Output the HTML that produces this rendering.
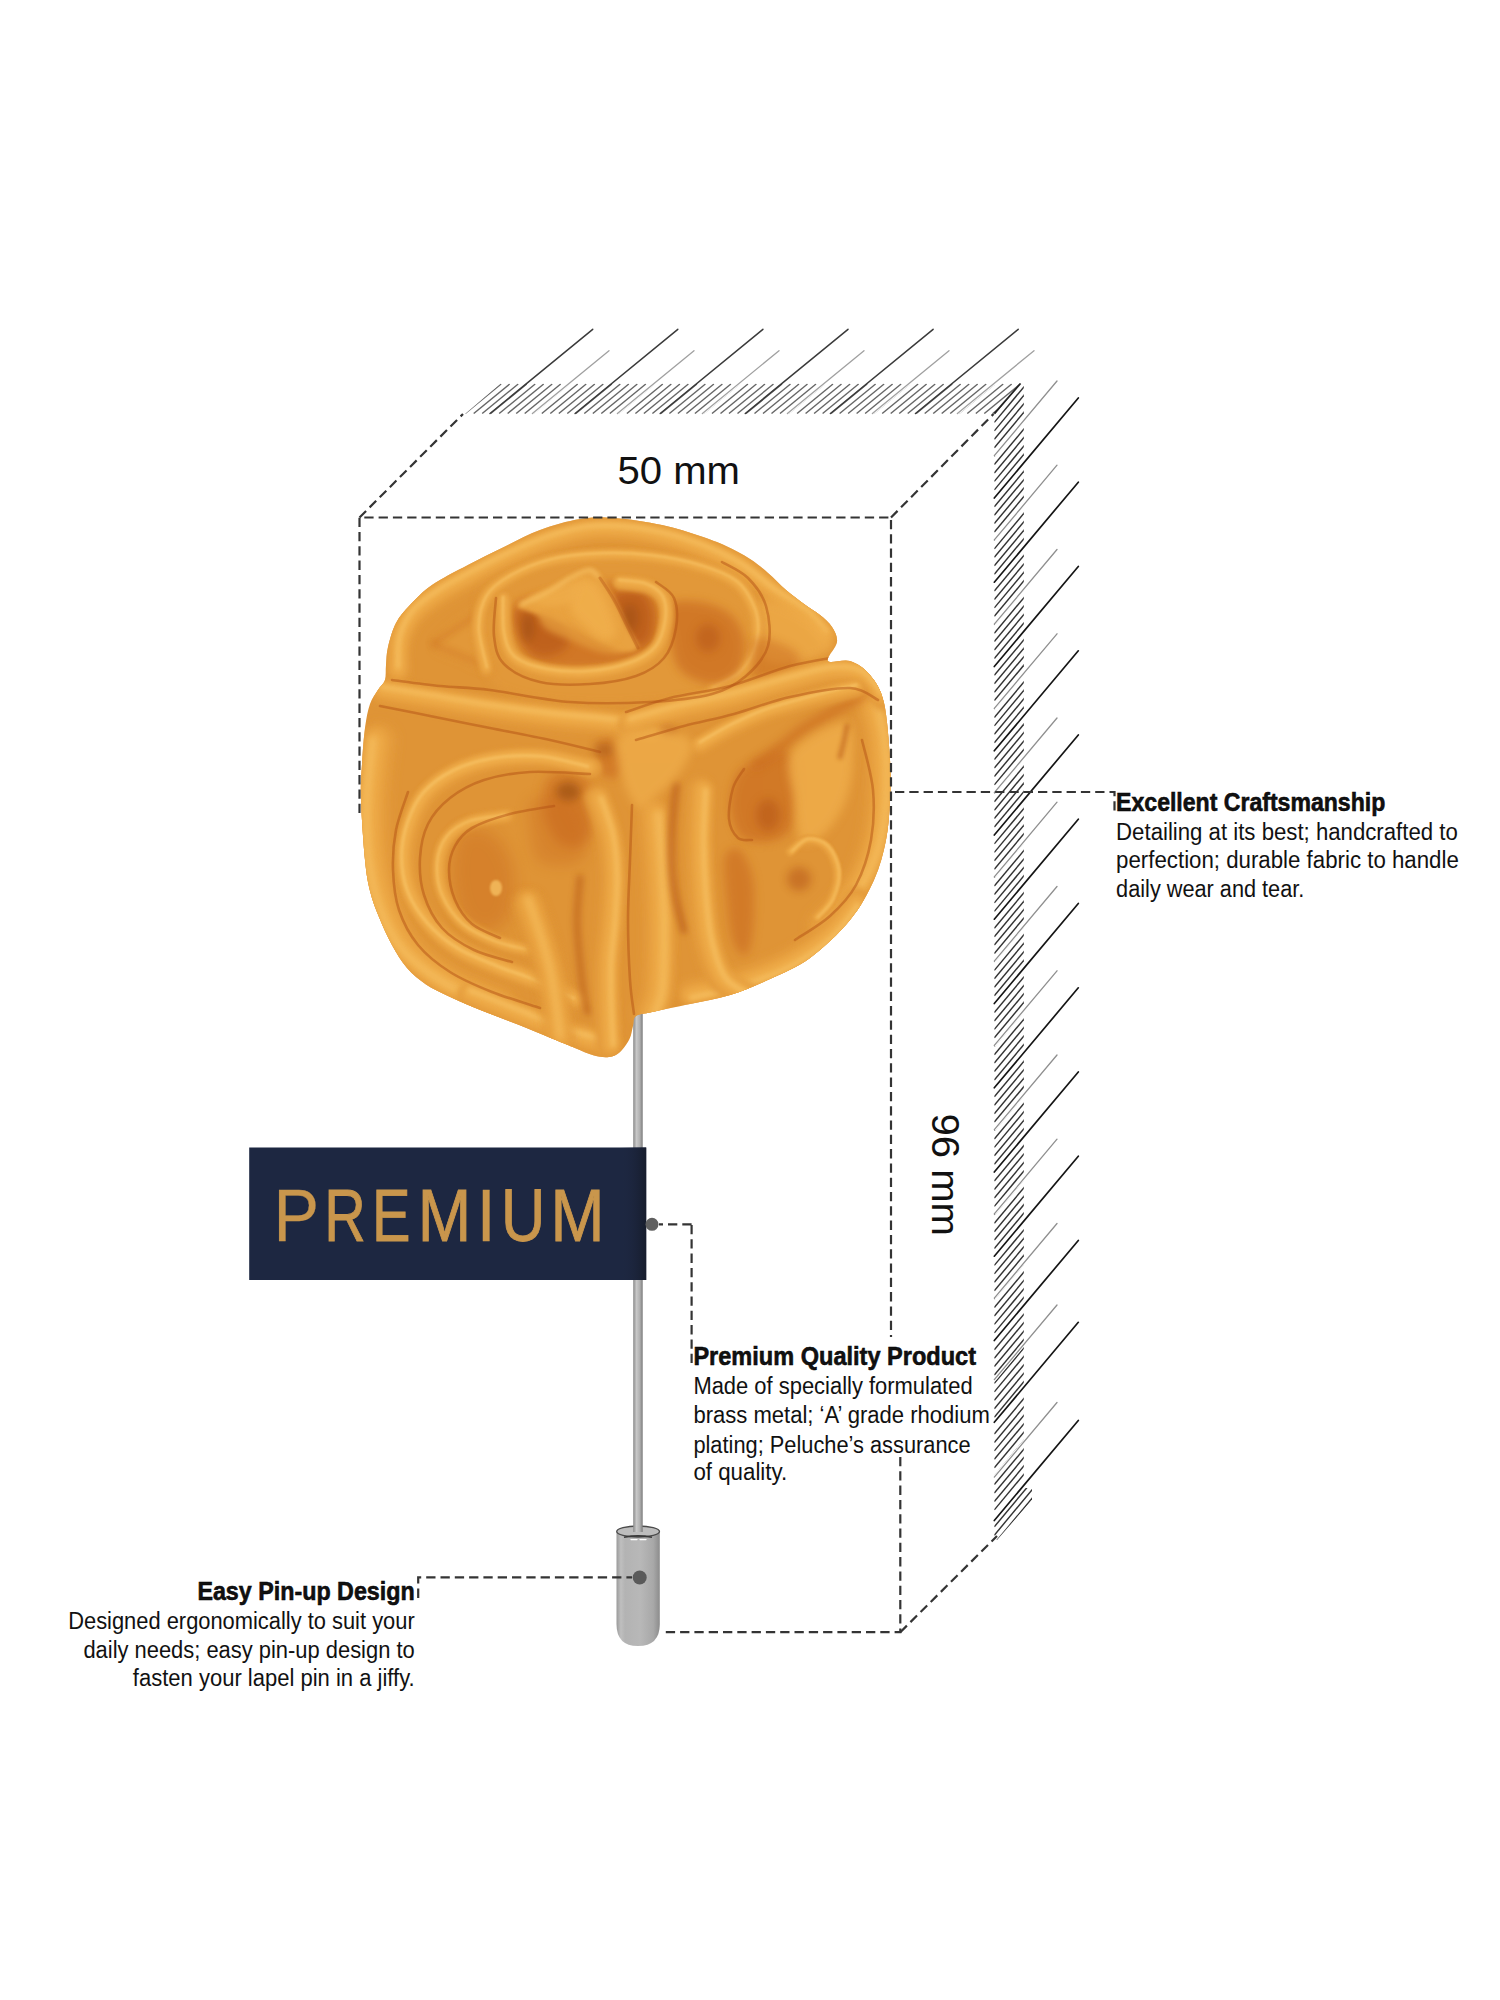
<!DOCTYPE html>
<html><head><meta charset="utf-8"><title>Lapel Pin</title>
<style>html,body{margin:0;padding:0;background:#fff;width:1500px;height:2000px;overflow:hidden;font-family:"Liberation Sans",sans-serif}svg{display:block}</style>
</head><body><svg width="1500" height="2000" viewBox="0 0 1500 2000" font-family="Liberation Sans, sans-serif">
<defs>
<clipPath id="cpTop"><polygon points="465,414 500.6,383.5 1020.5,383.5 994.3,414"/></clipPath>
<clipPath id="cpRight"><polygon points="994.3,414 1020.5,383.5 1023.8,383.5 1023.8,1488 1032,1488 1032,1500 997,1540 994.3,1540"/></clipPath>

<linearGradient id="gPin" x1="0" x2="1" y1="0" y2="0">
 <stop offset="0" stop-color="#8a8a8a"/><stop offset="0.35" stop-color="#c8c8c8"/><stop offset="0.7" stop-color="#b0b0b0"/><stop offset="1" stop-color="#7a7a7a"/>
</linearGradient>
<linearGradient id="gCap" x1="0" x2="1" y1="0" y2="0">
 <stop offset="0" stop-color="#9a9a9a"/><stop offset="0.1" stop-color="#bfbfbf"/><stop offset="0.2" stop-color="#b3b3b3"/><stop offset="0.55" stop-color="#b8b8b8"/><stop offset="0.85" stop-color="#a8a8a8"/><stop offset="1" stop-color="#8c8c8c"/>
</linearGradient>
<linearGradient id="gBoxEdge" x1="0" x2="1" y1="0" y2="0">
 <stop offset="0" stop-color="#1f2944" stop-opacity="0"/><stop offset="1" stop-color="#161c2c"/>
</linearGradient>
<clipPath id="cpFl"><path d="M580,519 C592.3,517.0 600.3,517.0 614,518 C627.7,519.0 647.7,522.0 662,525 C676.3,528.0 689.3,532.5 700,536 C710.7,539.5 717.7,542.2 726,546 C734.3,549.8 743.0,554.5 750,559 C757.0,563.5 762.0,567.8 768,573 C774.0,578.2 780.0,584.8 786,590 C792.0,595.2 798.3,599.8 804,604 C809.7,608.2 815.3,611.2 820,615 C824.7,618.8 829.2,622.5 832,627 C834.8,631.5 837.7,636.3 837,642 C836.3,647.7 825.8,657.8 828,661 C830.2,664.2 843.0,658.7 850,661 C857.0,663.3 864.3,668.0 870,675 C875.7,682.0 880.7,688.8 884,703 C887.3,717.2 889.0,743.8 890,760 C891.0,776.2 890.7,786.7 890,800 C889.3,813.3 888.7,826.7 886,840 C883.3,853.3 880.0,866.7 874,880 C868.0,893.3 860.7,907.0 850,920 C839.3,933.0 823.3,948.2 810,958 C796.7,967.8 783.3,972.8 770,979 C756.7,985.2 743.3,990.8 730,995 C716.7,999.2 703.0,1001.2 690,1004 C677.0,1006.8 661.0,1010.0 652,1012 C643.0,1014.0 639.2,1013.7 636,1016 C632.8,1018.3 634.1,1022.2 633,1026 C631.9,1029.8 631.7,1034.7 629.5,1039 C627.3,1043.3 623.4,1049.0 620,1052 C616.6,1055.0 613.3,1056.4 609,1057 C604.7,1057.6 599.7,1057.0 594,1055.5 C588.3,1054.0 581.2,1050.5 575,1048 C568.8,1045.5 564.7,1043.7 557,1040.5 C549.3,1037.3 538.3,1032.8 529,1029 C519.7,1025.2 510.3,1021.7 501,1018 C491.7,1014.3 481.8,1010.7 473,1007 C464.2,1003.3 455.8,999.8 448,996 C440.2,992.2 432.8,989.2 426,984.5 C419.2,979.8 412.7,974.6 407,968 C401.3,961.4 396.7,953.5 392,945 C387.3,936.5 382.7,926.0 379,917 C375.3,908.0 372.3,900.5 370,891 C367.7,881.5 366.5,875.2 365,860 C363.5,844.8 361.5,816.0 361,800 C360.5,784.0 361.3,776.0 362,764 C362.7,752.0 363.7,738.0 365,728 C366.3,718.0 367.8,710.3 370,704 C372.2,697.7 375.5,694.0 378,690 C380.5,686.0 383.7,684.2 385,680 C386.3,675.8 385.5,670.5 386,665 C386.5,659.5 386.3,654.0 388,647 C389.7,640.0 392.3,630.0 396,623 C399.7,616.0 404.0,611.3 410,605 C416.0,598.7 422.3,591.7 432,585 C441.7,578.3 456.0,571.3 468,565 C480.0,558.7 492.0,552.8 504,547 C516.0,541.2 527.3,534.7 540,530 C552.7,525.3 567.7,521.0 580,519 Z"/></clipPath><filter id="fb1" filterUnits="userSpaceOnUse" x="300" y="450" width="650" height="680"><feGaussianBlur stdDeviation="1"/></filter><filter id="fb2" filterUnits="userSpaceOnUse" x="300" y="450" width="650" height="680"><feGaussianBlur stdDeviation="2"/></filter><filter id="fb3" filterUnits="userSpaceOnUse" x="300" y="450" width="650" height="680"><feGaussianBlur stdDeviation="3"/></filter><filter id="fb4" filterUnits="userSpaceOnUse" x="300" y="450" width="650" height="680"><feGaussianBlur stdDeviation="4"/></filter><filter id="fb5" filterUnits="userSpaceOnUse" x="300" y="450" width="650" height="680"><feGaussianBlur stdDeviation="5"/></filter><filter id="fb6" filterUnits="userSpaceOnUse" x="300" y="450" width="650" height="680"><feGaussianBlur stdDeviation="6"/></filter><filter id="fb7" filterUnits="userSpaceOnUse" x="300" y="450" width="650" height="680"><feGaussianBlur stdDeviation="7"/></filter><filter id="fb8" filterUnits="userSpaceOnUse" x="300" y="450" width="650" height="680"><feGaussianBlur stdDeviation="8"/></filter><filter id="fb9" filterUnits="userSpaceOnUse" x="300" y="450" width="650" height="680"><feGaussianBlur stdDeviation="9"/></filter><filter id="fb10" filterUnits="userSpaceOnUse" x="300" y="450" width="650" height="680"><feGaussianBlur stdDeviation="10"/></filter><filter id="fb11" filterUnits="userSpaceOnUse" x="300" y="450" width="650" height="680"><feGaussianBlur stdDeviation="11"/></filter><filter id="fb12" filterUnits="userSpaceOnUse" x="300" y="450" width="650" height="680"><feGaussianBlur stdDeviation="12"/></filter><filter id="fb13" filterUnits="userSpaceOnUse" x="300" y="450" width="650" height="680"><feGaussianBlur stdDeviation="13"/></filter><filter id="fb14" filterUnits="userSpaceOnUse" x="300" y="450" width="650" height="680"><feGaussianBlur stdDeviation="14"/></filter><filter id="fb15" filterUnits="userSpaceOnUse" x="300" y="450" width="650" height="680"><feGaussianBlur stdDeviation="15"/></filter></defs>
<rect width="1500" height="2000" fill="#fff"/>
<g clip-path="url(#cpTop)"><line x1="465.2" y1="413.5" x2="501.1" y2="384.0" stroke="#666" stroke-width="1.4"/><line x1="473.7" y1="413.5" x2="509.7" y2="384.0" stroke="#666" stroke-width="1.4"/><line x1="482.2" y1="413.5" x2="518.2" y2="384.0" stroke="#666" stroke-width="1.4"/><line x1="490.7" y1="413.5" x2="526.7" y2="384.0" stroke="#666" stroke-width="1.4"/><line x1="499.2" y1="413.5" x2="535.2" y2="384.0" stroke="#666" stroke-width="1.4"/><line x1="507.7" y1="413.5" x2="543.7" y2="384.0" stroke="#666" stroke-width="1.4"/><line x1="516.2" y1="413.5" x2="552.2" y2="384.0" stroke="#666" stroke-width="1.4"/><line x1="524.7" y1="413.5" x2="560.7" y2="384.0" stroke="#666" stroke-width="1.4"/><line x1="533.2" y1="413.5" x2="569.2" y2="384.0" stroke="#666" stroke-width="1.4"/><line x1="541.8" y1="413.5" x2="577.7" y2="384.0" stroke="#666" stroke-width="1.4"/><line x1="550.3" y1="413.5" x2="586.2" y2="384.0" stroke="#666" stroke-width="1.4"/><line x1="558.8" y1="413.5" x2="594.8" y2="384.0" stroke="#666" stroke-width="1.4"/><line x1="567.3" y1="413.5" x2="603.3" y2="384.0" stroke="#666" stroke-width="1.4"/><line x1="575.8" y1="413.5" x2="611.8" y2="384.0" stroke="#666" stroke-width="1.4"/><line x1="584.3" y1="413.5" x2="620.3" y2="384.0" stroke="#666" stroke-width="1.4"/><line x1="592.8" y1="413.5" x2="628.8" y2="384.0" stroke="#666" stroke-width="1.4"/><line x1="601.3" y1="413.5" x2="637.3" y2="384.0" stroke="#666" stroke-width="1.4"/><line x1="609.8" y1="413.5" x2="645.8" y2="384.0" stroke="#666" stroke-width="1.4"/><line x1="618.4" y1="413.5" x2="654.3" y2="384.0" stroke="#666" stroke-width="1.4"/><line x1="626.9" y1="413.5" x2="662.8" y2="384.0" stroke="#666" stroke-width="1.4"/><line x1="635.4" y1="413.5" x2="671.3" y2="384.0" stroke="#666" stroke-width="1.4"/><line x1="643.9" y1="413.5" x2="679.9" y2="384.0" stroke="#666" stroke-width="1.4"/><line x1="652.4" y1="413.5" x2="688.4" y2="384.0" stroke="#666" stroke-width="1.4"/><line x1="660.9" y1="413.5" x2="696.9" y2="384.0" stroke="#666" stroke-width="1.4"/><line x1="669.4" y1="413.5" x2="705.4" y2="384.0" stroke="#666" stroke-width="1.4"/><line x1="677.9" y1="413.5" x2="713.9" y2="384.0" stroke="#666" stroke-width="1.4"/><line x1="686.4" y1="413.5" x2="722.4" y2="384.0" stroke="#666" stroke-width="1.4"/><line x1="694.9" y1="413.5" x2="730.9" y2="384.0" stroke="#666" stroke-width="1.4"/><line x1="703.5" y1="413.5" x2="739.4" y2="384.0" stroke="#666" stroke-width="1.4"/><line x1="712.0" y1="413.5" x2="747.9" y2="384.0" stroke="#666" stroke-width="1.4"/><line x1="720.5" y1="413.5" x2="756.4" y2="384.0" stroke="#666" stroke-width="1.4"/><line x1="729.0" y1="413.5" x2="765.0" y2="384.0" stroke="#666" stroke-width="1.4"/><line x1="737.5" y1="413.5" x2="773.5" y2="384.0" stroke="#666" stroke-width="1.4"/><line x1="746.0" y1="413.5" x2="782.0" y2="384.0" stroke="#666" stroke-width="1.4"/><line x1="754.5" y1="413.5" x2="790.5" y2="384.0" stroke="#666" stroke-width="1.4"/><line x1="763.0" y1="413.5" x2="799.0" y2="384.0" stroke="#666" stroke-width="1.4"/><line x1="771.5" y1="413.5" x2="807.5" y2="384.0" stroke="#666" stroke-width="1.4"/><line x1="780.0" y1="413.5" x2="816.0" y2="384.0" stroke="#666" stroke-width="1.4"/><line x1="788.5" y1="413.5" x2="824.5" y2="384.0" stroke="#666" stroke-width="1.4"/><line x1="797.1" y1="413.5" x2="833.0" y2="384.0" stroke="#666" stroke-width="1.4"/><line x1="805.6" y1="413.5" x2="841.5" y2="384.0" stroke="#666" stroke-width="1.4"/><line x1="814.1" y1="413.5" x2="850.1" y2="384.0" stroke="#666" stroke-width="1.4"/><line x1="822.6" y1="413.5" x2="858.6" y2="384.0" stroke="#666" stroke-width="1.4"/><line x1="831.1" y1="413.5" x2="867.1" y2="384.0" stroke="#666" stroke-width="1.4"/><line x1="839.6" y1="413.5" x2="875.6" y2="384.0" stroke="#666" stroke-width="1.4"/><line x1="848.1" y1="413.5" x2="884.1" y2="384.0" stroke="#666" stroke-width="1.4"/><line x1="856.6" y1="413.5" x2="892.6" y2="384.0" stroke="#666" stroke-width="1.4"/><line x1="865.1" y1="413.5" x2="901.1" y2="384.0" stroke="#666" stroke-width="1.4"/><line x1="873.6" y1="413.5" x2="909.6" y2="384.0" stroke="#666" stroke-width="1.4"/><line x1="882.2" y1="413.5" x2="918.1" y2="384.0" stroke="#666" stroke-width="1.4"/><line x1="890.7" y1="413.5" x2="926.6" y2="384.0" stroke="#666" stroke-width="1.4"/><line x1="899.2" y1="413.5" x2="935.2" y2="384.0" stroke="#666" stroke-width="1.4"/><line x1="907.7" y1="413.5" x2="943.7" y2="384.0" stroke="#666" stroke-width="1.4"/><line x1="916.2" y1="413.5" x2="952.2" y2="384.0" stroke="#666" stroke-width="1.4"/><line x1="924.7" y1="413.5" x2="960.7" y2="384.0" stroke="#666" stroke-width="1.4"/><line x1="933.2" y1="413.5" x2="969.2" y2="384.0" stroke="#666" stroke-width="1.4"/><line x1="941.7" y1="413.5" x2="977.7" y2="384.0" stroke="#666" stroke-width="1.4"/><line x1="950.2" y1="413.5" x2="986.2" y2="384.0" stroke="#666" stroke-width="1.4"/><line x1="958.8" y1="413.5" x2="994.7" y2="384.0" stroke="#666" stroke-width="1.4"/><line x1="967.3" y1="413.5" x2="1003.2" y2="384.0" stroke="#666" stroke-width="1.4"/><line x1="975.8" y1="413.5" x2="1011.7" y2="384.0" stroke="#666" stroke-width="1.4"/><line x1="984.3" y1="413.5" x2="1020.3" y2="384.0" stroke="#666" stroke-width="1.4"/><line x1="992.8" y1="413.5" x2="1028.8" y2="384.0" stroke="#666" stroke-width="1.4"/></g><line x1="490.0" y1="413.5" x2="592.7" y2="329.3" stroke="#3a3a3a" stroke-width="1.5" stroke-linecap="round"/><line x1="575.1" y1="413.5" x2="677.8" y2="329.3" stroke="#3a3a3a" stroke-width="1.5" stroke-linecap="round"/><line x1="660.2" y1="413.5" x2="762.9" y2="329.3" stroke="#3a3a3a" stroke-width="1.5" stroke-linecap="round"/><line x1="745.3" y1="413.5" x2="848.0" y2="329.3" stroke="#3a3a3a" stroke-width="1.5" stroke-linecap="round"/><line x1="830.4" y1="413.5" x2="933.1" y2="329.3" stroke="#3a3a3a" stroke-width="1.5" stroke-linecap="round"/><line x1="915.5" y1="413.5" x2="1018.2" y2="329.3" stroke="#3a3a3a" stroke-width="1.5" stroke-linecap="round"/><line x1="532.4" y1="413.5" x2="609.0" y2="350.7" stroke="#fff" stroke-width="3.2"/><line x1="532.4" y1="413.5" x2="609.0" y2="350.7" stroke="#a0a0a0" stroke-width="1.3" stroke-linecap="round"/><line x1="617.4" y1="413.5" x2="694.0" y2="350.7" stroke="#fff" stroke-width="3.2"/><line x1="617.4" y1="413.5" x2="694.0" y2="350.7" stroke="#a0a0a0" stroke-width="1.3" stroke-linecap="round"/><line x1="702.4" y1="413.5" x2="779.0" y2="350.7" stroke="#fff" stroke-width="3.2"/><line x1="702.4" y1="413.5" x2="779.0" y2="350.7" stroke="#a0a0a0" stroke-width="1.3" stroke-linecap="round"/><line x1="787.4" y1="413.5" x2="864.0" y2="350.7" stroke="#fff" stroke-width="3.2"/><line x1="787.4" y1="413.5" x2="864.0" y2="350.7" stroke="#a0a0a0" stroke-width="1.3" stroke-linecap="round"/><line x1="872.4" y1="413.5" x2="949.0" y2="350.7" stroke="#fff" stroke-width="3.2"/><line x1="872.4" y1="413.5" x2="949.0" y2="350.7" stroke="#a0a0a0" stroke-width="1.3" stroke-linecap="round"/><line x1="957.4" y1="413.5" x2="1034.0" y2="350.7" stroke="#fff" stroke-width="3.2"/><line x1="957.4" y1="413.5" x2="1034.0" y2="350.7" stroke="#a0a0a0" stroke-width="1.3" stroke-linecap="round"/><g clip-path="url(#cpRight)"><line x1="994.3" y1="414.0" x2="1033.6" y2="366.8" stroke="#333" stroke-width="1.45"/><line x1="994.3" y1="422.4" x2="1033.6" y2="375.3" stroke="#333" stroke-width="1.45"/><line x1="994.3" y1="430.9" x2="1033.6" y2="383.7" stroke="#333" stroke-width="1.45"/><line x1="994.3" y1="439.3" x2="1033.6" y2="392.1" stroke="#333" stroke-width="1.45"/><line x1="994.3" y1="447.7" x2="1033.6" y2="400.6" stroke="#333" stroke-width="1.45"/><line x1="994.3" y1="456.2" x2="1033.6" y2="409.0" stroke="#333" stroke-width="1.45"/><line x1="994.3" y1="464.6" x2="1033.6" y2="417.4" stroke="#333" stroke-width="1.45"/><line x1="994.3" y1="473.0" x2="1033.6" y2="425.9" stroke="#333" stroke-width="1.45"/><line x1="994.3" y1="481.4" x2="1033.6" y2="434.3" stroke="#333" stroke-width="1.45"/><line x1="994.3" y1="489.9" x2="1033.6" y2="442.7" stroke="#333" stroke-width="1.45"/><line x1="994.3" y1="506.7" x2="1033.6" y2="459.6" stroke="#333" stroke-width="1.45"/><line x1="994.3" y1="515.2" x2="1033.6" y2="468.0" stroke="#333" stroke-width="1.45"/><line x1="994.3" y1="523.6" x2="1033.6" y2="476.4" stroke="#333" stroke-width="1.45"/><line x1="994.3" y1="532.0" x2="1033.6" y2="484.9" stroke="#333" stroke-width="1.45"/><line x1="994.3" y1="540.4" x2="1033.6" y2="493.3" stroke="#333" stroke-width="1.45"/><line x1="994.3" y1="548.9" x2="1033.6" y2="501.7" stroke="#333" stroke-width="1.45"/><line x1="994.3" y1="557.3" x2="1033.6" y2="510.1" stroke="#333" stroke-width="1.45"/><line x1="994.3" y1="565.7" x2="1033.6" y2="518.6" stroke="#333" stroke-width="1.45"/><line x1="994.3" y1="574.2" x2="1033.6" y2="527.0" stroke="#333" stroke-width="1.45"/><line x1="994.3" y1="591.0" x2="1033.6" y2="543.9" stroke="#333" stroke-width="1.45"/><line x1="994.3" y1="599.5" x2="1033.6" y2="552.3" stroke="#333" stroke-width="1.45"/><line x1="994.3" y1="607.9" x2="1033.6" y2="560.7" stroke="#333" stroke-width="1.45"/><line x1="994.3" y1="616.3" x2="1033.6" y2="569.2" stroke="#333" stroke-width="1.45"/><line x1="994.3" y1="624.7" x2="1033.6" y2="577.6" stroke="#333" stroke-width="1.45"/><line x1="994.3" y1="633.2" x2="1033.6" y2="586.0" stroke="#333" stroke-width="1.45"/><line x1="994.3" y1="641.6" x2="1033.6" y2="594.4" stroke="#333" stroke-width="1.45"/><line x1="994.3" y1="650.0" x2="1033.6" y2="602.9" stroke="#333" stroke-width="1.45"/><line x1="994.3" y1="658.5" x2="1033.6" y2="611.3" stroke="#333" stroke-width="1.45"/><line x1="994.3" y1="675.3" x2="1033.6" y2="628.2" stroke="#333" stroke-width="1.45"/><line x1="994.3" y1="683.8" x2="1033.6" y2="636.6" stroke="#333" stroke-width="1.45"/><line x1="994.3" y1="692.2" x2="1033.6" y2="645.0" stroke="#333" stroke-width="1.45"/><line x1="994.3" y1="700.6" x2="1033.6" y2="653.5" stroke="#333" stroke-width="1.45"/><line x1="994.3" y1="709.0" x2="1033.6" y2="661.9" stroke="#333" stroke-width="1.45"/><line x1="994.3" y1="717.5" x2="1033.6" y2="670.3" stroke="#333" stroke-width="1.45"/><line x1="994.3" y1="725.9" x2="1033.6" y2="678.7" stroke="#333" stroke-width="1.45"/><line x1="994.3" y1="734.3" x2="1033.6" y2="687.2" stroke="#333" stroke-width="1.45"/><line x1="994.3" y1="742.8" x2="1033.6" y2="695.6" stroke="#333" stroke-width="1.45"/><line x1="994.3" y1="759.6" x2="1033.6" y2="712.5" stroke="#333" stroke-width="1.45"/><line x1="994.3" y1="768.1" x2="1033.6" y2="720.9" stroke="#333" stroke-width="1.45"/><line x1="994.3" y1="776.5" x2="1033.6" y2="729.3" stroke="#333" stroke-width="1.45"/><line x1="994.3" y1="784.9" x2="1033.6" y2="737.8" stroke="#333" stroke-width="1.45"/><line x1="994.3" y1="793.3" x2="1033.6" y2="746.2" stroke="#333" stroke-width="1.45"/><line x1="994.3" y1="801.8" x2="1033.6" y2="754.6" stroke="#333" stroke-width="1.45"/><line x1="994.3" y1="810.2" x2="1033.6" y2="763.0" stroke="#333" stroke-width="1.45"/><line x1="994.3" y1="818.6" x2="1033.6" y2="771.5" stroke="#333" stroke-width="1.45"/><line x1="994.3" y1="827.1" x2="1033.6" y2="779.9" stroke="#333" stroke-width="1.45"/><line x1="994.3" y1="843.9" x2="1033.6" y2="796.8" stroke="#333" stroke-width="1.45"/><line x1="994.3" y1="852.4" x2="1033.6" y2="805.2" stroke="#333" stroke-width="1.45"/><line x1="994.3" y1="860.8" x2="1033.6" y2="813.6" stroke="#333" stroke-width="1.45"/><line x1="994.3" y1="869.2" x2="1033.6" y2="822.1" stroke="#333" stroke-width="1.45"/><line x1="994.3" y1="877.6" x2="1033.6" y2="830.5" stroke="#333" stroke-width="1.45"/><line x1="994.3" y1="886.1" x2="1033.6" y2="838.9" stroke="#333" stroke-width="1.45"/><line x1="994.3" y1="894.5" x2="1033.6" y2="847.3" stroke="#333" stroke-width="1.45"/><line x1="994.3" y1="902.9" x2="1033.6" y2="855.8" stroke="#333" stroke-width="1.45"/><line x1="994.3" y1="911.4" x2="1033.6" y2="864.2" stroke="#333" stroke-width="1.45"/><line x1="994.3" y1="928.2" x2="1033.6" y2="881.1" stroke="#333" stroke-width="1.45"/><line x1="994.3" y1="936.7" x2="1033.6" y2="889.5" stroke="#333" stroke-width="1.45"/><line x1="994.3" y1="945.1" x2="1033.6" y2="897.9" stroke="#333" stroke-width="1.45"/><line x1="994.3" y1="953.5" x2="1033.6" y2="906.4" stroke="#333" stroke-width="1.45"/><line x1="994.3" y1="961.9" x2="1033.6" y2="914.8" stroke="#333" stroke-width="1.45"/><line x1="994.3" y1="970.4" x2="1033.6" y2="923.2" stroke="#333" stroke-width="1.45"/><line x1="994.3" y1="978.8" x2="1033.6" y2="931.6" stroke="#333" stroke-width="1.45"/><line x1="994.3" y1="987.2" x2="1033.6" y2="940.1" stroke="#333" stroke-width="1.45"/><line x1="994.3" y1="995.7" x2="1033.6" y2="948.5" stroke="#333" stroke-width="1.45"/><line x1="994.3" y1="1012.5" x2="1033.6" y2="965.4" stroke="#333" stroke-width="1.45"/><line x1="994.3" y1="1021.0" x2="1033.6" y2="973.8" stroke="#333" stroke-width="1.45"/><line x1="994.3" y1="1029.4" x2="1033.6" y2="982.2" stroke="#333" stroke-width="1.45"/><line x1="994.3" y1="1037.8" x2="1033.6" y2="990.7" stroke="#333" stroke-width="1.45"/><line x1="994.3" y1="1046.2" x2="1033.6" y2="999.1" stroke="#333" stroke-width="1.45"/><line x1="994.3" y1="1054.7" x2="1033.6" y2="1007.5" stroke="#333" stroke-width="1.45"/><line x1="994.3" y1="1063.1" x2="1033.6" y2="1015.9" stroke="#333" stroke-width="1.45"/><line x1="994.3" y1="1071.5" x2="1033.6" y2="1024.4" stroke="#333" stroke-width="1.45"/><line x1="994.3" y1="1080.0" x2="1033.6" y2="1032.8" stroke="#333" stroke-width="1.45"/><line x1="994.3" y1="1096.8" x2="1033.6" y2="1049.7" stroke="#333" stroke-width="1.45"/><line x1="994.3" y1="1105.3" x2="1033.6" y2="1058.1" stroke="#333" stroke-width="1.45"/><line x1="994.3" y1="1113.7" x2="1033.6" y2="1066.5" stroke="#333" stroke-width="1.45"/><line x1="994.3" y1="1122.1" x2="1033.6" y2="1075.0" stroke="#333" stroke-width="1.45"/><line x1="994.3" y1="1130.5" x2="1033.6" y2="1083.4" stroke="#333" stroke-width="1.45"/><line x1="994.3" y1="1139.0" x2="1033.6" y2="1091.8" stroke="#333" stroke-width="1.45"/><line x1="994.3" y1="1147.4" x2="1033.6" y2="1100.2" stroke="#333" stroke-width="1.45"/><line x1="994.3" y1="1155.8" x2="1033.6" y2="1108.7" stroke="#333" stroke-width="1.45"/><line x1="994.3" y1="1164.3" x2="1033.6" y2="1117.1" stroke="#333" stroke-width="1.45"/><line x1="994.3" y1="1181.1" x2="1033.6" y2="1134.0" stroke="#333" stroke-width="1.45"/><line x1="994.3" y1="1189.6" x2="1033.6" y2="1142.4" stroke="#333" stroke-width="1.45"/><line x1="994.3" y1="1198.0" x2="1033.6" y2="1150.8" stroke="#333" stroke-width="1.45"/><line x1="994.3" y1="1206.4" x2="1033.6" y2="1159.3" stroke="#333" stroke-width="1.45"/><line x1="994.3" y1="1214.8" x2="1033.6" y2="1167.7" stroke="#333" stroke-width="1.45"/><line x1="994.3" y1="1223.3" x2="1033.6" y2="1176.1" stroke="#333" stroke-width="1.45"/><line x1="994.3" y1="1231.7" x2="1033.6" y2="1184.5" stroke="#333" stroke-width="1.45"/><line x1="994.3" y1="1240.1" x2="1033.6" y2="1193.0" stroke="#333" stroke-width="1.45"/><line x1="994.3" y1="1248.6" x2="1033.6" y2="1201.4" stroke="#333" stroke-width="1.45"/><line x1="994.3" y1="1265.4" x2="1033.6" y2="1218.3" stroke="#333" stroke-width="1.45"/><line x1="994.3" y1="1273.9" x2="1033.6" y2="1226.7" stroke="#333" stroke-width="1.45"/><line x1="994.3" y1="1282.3" x2="1033.6" y2="1235.1" stroke="#333" stroke-width="1.45"/><line x1="994.3" y1="1290.7" x2="1033.6" y2="1243.6" stroke="#333" stroke-width="1.45"/><line x1="994.3" y1="1299.1" x2="1033.6" y2="1252.0" stroke="#333" stroke-width="1.45"/><line x1="994.3" y1="1307.6" x2="1033.6" y2="1260.4" stroke="#333" stroke-width="1.45"/><line x1="994.3" y1="1316.0" x2="1033.6" y2="1268.8" stroke="#333" stroke-width="1.45"/><line x1="994.3" y1="1324.4" x2="1033.6" y2="1277.3" stroke="#333" stroke-width="1.45"/><line x1="994.3" y1="1332.9" x2="1033.6" y2="1285.7" stroke="#333" stroke-width="1.45"/><line x1="994.3" y1="1349.7" x2="1033.6" y2="1302.6" stroke="#333" stroke-width="1.45"/><line x1="994.3" y1="1358.2" x2="1033.6" y2="1311.0" stroke="#333" stroke-width="1.45"/><line x1="994.3" y1="1366.6" x2="1033.6" y2="1319.4" stroke="#333" stroke-width="1.45"/><line x1="994.3" y1="1375.0" x2="1033.6" y2="1327.9" stroke="#333" stroke-width="1.45"/><line x1="994.3" y1="1383.4" x2="1033.6" y2="1336.3" stroke="#333" stroke-width="1.45"/><line x1="994.3" y1="1391.9" x2="1033.6" y2="1344.7" stroke="#333" stroke-width="1.45"/><line x1="994.3" y1="1400.3" x2="1033.6" y2="1353.2" stroke="#333" stroke-width="1.45"/><line x1="994.3" y1="1408.7" x2="1033.6" y2="1361.6" stroke="#333" stroke-width="1.45"/><line x1="994.3" y1="1417.2" x2="1033.6" y2="1370.0" stroke="#333" stroke-width="1.45"/><line x1="994.3" y1="1434.0" x2="1033.6" y2="1386.9" stroke="#333" stroke-width="1.45"/><line x1="994.3" y1="1442.5" x2="1033.6" y2="1395.3" stroke="#333" stroke-width="1.45"/><line x1="994.3" y1="1450.9" x2="1033.6" y2="1403.7" stroke="#333" stroke-width="1.45"/><line x1="994.3" y1="1459.3" x2="1033.6" y2="1412.2" stroke="#333" stroke-width="1.45"/><line x1="994.3" y1="1467.8" x2="1033.6" y2="1420.6" stroke="#333" stroke-width="1.45"/><line x1="994.3" y1="1476.2" x2="1033.6" y2="1429.0" stroke="#333" stroke-width="1.45"/><line x1="994.3" y1="1484.6" x2="1033.6" y2="1437.5" stroke="#333" stroke-width="1.45"/><line x1="994.3" y1="1493.0" x2="1033.6" y2="1445.9" stroke="#333" stroke-width="1.45"/><line x1="994.3" y1="1501.5" x2="1033.6" y2="1454.3" stroke="#333" stroke-width="1.45"/><line x1="994.3" y1="1509.9" x2="1033.6" y2="1462.7" stroke="#333" stroke-width="1.45"/><line x1="994.3" y1="1526.8" x2="1033.6" y2="1479.6" stroke="#333" stroke-width="1.45"/><line x1="994.3" y1="1535.2" x2="1033.6" y2="1488.0" stroke="#333" stroke-width="1.45"/><line x1="994.3" y1="1543.6" x2="1033.6" y2="1496.5" stroke="#333" stroke-width="1.45"/></g><line x1="994.3" y1="498.0" x2="1078.3" y2="398.0" stroke="#151515" stroke-width="1.7" stroke-linecap="round"/><line x1="994.3" y1="582.2" x2="1078.3" y2="482.2" stroke="#151515" stroke-width="1.7" stroke-linecap="round"/><line x1="994.3" y1="666.5" x2="1078.3" y2="566.5" stroke="#151515" stroke-width="1.7" stroke-linecap="round"/><line x1="994.3" y1="750.8" x2="1078.3" y2="650.8" stroke="#151515" stroke-width="1.7" stroke-linecap="round"/><line x1="994.3" y1="835.0" x2="1078.3" y2="735.0" stroke="#151515" stroke-width="1.7" stroke-linecap="round"/><line x1="994.3" y1="919.2" x2="1078.3" y2="819.2" stroke="#151515" stroke-width="1.7" stroke-linecap="round"/><line x1="994.3" y1="1003.5" x2="1078.3" y2="903.5" stroke="#151515" stroke-width="1.7" stroke-linecap="round"/><line x1="994.3" y1="1087.8" x2="1078.3" y2="987.8" stroke="#151515" stroke-width="1.7" stroke-linecap="round"/><line x1="994.3" y1="1172.0" x2="1078.3" y2="1072.0" stroke="#151515" stroke-width="1.7" stroke-linecap="round"/><line x1="994.3" y1="1256.2" x2="1078.3" y2="1156.2" stroke="#151515" stroke-width="1.7" stroke-linecap="round"/><line x1="994.3" y1="1340.5" x2="1078.3" y2="1240.5" stroke="#151515" stroke-width="1.7" stroke-linecap="round"/><line x1="994.3" y1="1422.3" x2="1078.3" y2="1322.3" stroke="#151515" stroke-width="1.7" stroke-linecap="round"/><line x1="994.3" y1="1520.5" x2="1078.3" y2="1420.5" stroke="#151515" stroke-width="1.7" stroke-linecap="round"/><line x1="994.3" y1="455.6" x2="1057.0" y2="381.0" stroke="#fff" stroke-width="3.2"/><line x1="994.3" y1="455.6" x2="1057.0" y2="381.0" stroke="#8f8f8f" stroke-width="1.3" stroke-linecap="round"/><line x1="994.3" y1="539.9" x2="1057.0" y2="465.2" stroke="#fff" stroke-width="3.2"/><line x1="994.3" y1="539.9" x2="1057.0" y2="465.2" stroke="#8f8f8f" stroke-width="1.3" stroke-linecap="round"/><line x1="994.3" y1="624.1" x2="1057.0" y2="549.5" stroke="#fff" stroke-width="3.2"/><line x1="994.3" y1="624.1" x2="1057.0" y2="549.5" stroke="#8f8f8f" stroke-width="1.3" stroke-linecap="round"/><line x1="994.3" y1="708.4" x2="1057.0" y2="633.8" stroke="#fff" stroke-width="3.2"/><line x1="994.3" y1="708.4" x2="1057.0" y2="633.8" stroke="#8f8f8f" stroke-width="1.3" stroke-linecap="round"/><line x1="994.3" y1="792.6" x2="1057.0" y2="718.0" stroke="#fff" stroke-width="3.2"/><line x1="994.3" y1="792.6" x2="1057.0" y2="718.0" stroke="#8f8f8f" stroke-width="1.3" stroke-linecap="round"/><line x1="994.3" y1="876.9" x2="1057.0" y2="802.2" stroke="#fff" stroke-width="3.2"/><line x1="994.3" y1="876.9" x2="1057.0" y2="802.2" stroke="#8f8f8f" stroke-width="1.3" stroke-linecap="round"/><line x1="994.3" y1="961.1" x2="1057.0" y2="886.5" stroke="#fff" stroke-width="3.2"/><line x1="994.3" y1="961.1" x2="1057.0" y2="886.5" stroke="#8f8f8f" stroke-width="1.3" stroke-linecap="round"/><line x1="994.3" y1="1045.4" x2="1057.0" y2="970.8" stroke="#fff" stroke-width="3.2"/><line x1="994.3" y1="1045.4" x2="1057.0" y2="970.8" stroke="#8f8f8f" stroke-width="1.3" stroke-linecap="round"/><line x1="994.3" y1="1129.6" x2="1057.0" y2="1055.0" stroke="#fff" stroke-width="3.2"/><line x1="994.3" y1="1129.6" x2="1057.0" y2="1055.0" stroke="#8f8f8f" stroke-width="1.3" stroke-linecap="round"/><line x1="994.3" y1="1213.9" x2="1057.0" y2="1139.2" stroke="#fff" stroke-width="3.2"/><line x1="994.3" y1="1213.9" x2="1057.0" y2="1139.2" stroke="#8f8f8f" stroke-width="1.3" stroke-linecap="round"/><line x1="994.3" y1="1298.1" x2="1057.0" y2="1223.5" stroke="#fff" stroke-width="3.2"/><line x1="994.3" y1="1298.1" x2="1057.0" y2="1223.5" stroke="#8f8f8f" stroke-width="1.3" stroke-linecap="round"/><line x1="994.3" y1="1379.6" x2="1057.0" y2="1305.0" stroke="#fff" stroke-width="3.2"/><line x1="994.3" y1="1379.6" x2="1057.0" y2="1305.0" stroke="#8f8f8f" stroke-width="1.3" stroke-linecap="round"/><line x1="994.3" y1="1477.1" x2="1057.0" y2="1402.5" stroke="#fff" stroke-width="3.2"/><line x1="994.3" y1="1477.1" x2="1057.0" y2="1402.5" stroke="#8f8f8f" stroke-width="1.3" stroke-linecap="round"/><line x1="994.3" y1="413.5" x2="1020.5" y2="383.5" stroke="#222" stroke-width="1.8"/>
<path d="M616.5,1532 L616.5,1624 Q616.5,1646 638,1646 Q659.8,1646 659.8,1624 L659.8,1532 Z" fill="url(#gCap)"/><ellipse cx="638.1" cy="1531.5" rx="21.4" ry="5.5" fill="#bdbdbd" stroke="#4a4a4a" stroke-width="1.3"/><path d="M624,1537.2 Q638,1534.5 652,1537.2" stroke="#3a3a3a" stroke-width="1.6" fill="none"/><path d="M631,1539.6 L637,1539.6 M640,1539.6 L646,1539.6" stroke="#fff" stroke-width="1.4" stroke-linecap="round"/><rect x="633.2" y="1010" width="9.5" height="522" fill="url(#gPin)"/>
<path d="M580,519 C592.3,517.0 600.3,517.0 614,518 C627.7,519.0 647.7,522.0 662,525 C676.3,528.0 689.3,532.5 700,536 C710.7,539.5 717.7,542.2 726,546 C734.3,549.8 743.0,554.5 750,559 C757.0,563.5 762.0,567.8 768,573 C774.0,578.2 780.0,584.8 786,590 C792.0,595.2 798.3,599.8 804,604 C809.7,608.2 815.3,611.2 820,615 C824.7,618.8 829.2,622.5 832,627 C834.8,631.5 837.7,636.3 837,642 C836.3,647.7 825.8,657.8 828,661 C830.2,664.2 843.0,658.7 850,661 C857.0,663.3 864.3,668.0 870,675 C875.7,682.0 880.7,688.8 884,703 C887.3,717.2 889.0,743.8 890,760 C891.0,776.2 890.7,786.7 890,800 C889.3,813.3 888.7,826.7 886,840 C883.3,853.3 880.0,866.7 874,880 C868.0,893.3 860.7,907.0 850,920 C839.3,933.0 823.3,948.2 810,958 C796.7,967.8 783.3,972.8 770,979 C756.7,985.2 743.3,990.8 730,995 C716.7,999.2 703.0,1001.2 690,1004 C677.0,1006.8 661.0,1010.0 652,1012 C643.0,1014.0 639.2,1013.7 636,1016 C632.8,1018.3 634.1,1022.2 633,1026 C631.9,1029.8 631.7,1034.7 629.5,1039 C627.3,1043.3 623.4,1049.0 620,1052 C616.6,1055.0 613.3,1056.4 609,1057 C604.7,1057.6 599.7,1057.0 594,1055.5 C588.3,1054.0 581.2,1050.5 575,1048 C568.8,1045.5 564.7,1043.7 557,1040.5 C549.3,1037.3 538.3,1032.8 529,1029 C519.7,1025.2 510.3,1021.7 501,1018 C491.7,1014.3 481.8,1010.7 473,1007 C464.2,1003.3 455.8,999.8 448,996 C440.2,992.2 432.8,989.2 426,984.5 C419.2,979.8 412.7,974.6 407,968 C401.3,961.4 396.7,953.5 392,945 C387.3,936.5 382.7,926.0 379,917 C375.3,908.0 372.3,900.5 370,891 C367.7,881.5 366.5,875.2 365,860 C363.5,844.8 361.5,816.0 361,800 C360.5,784.0 361.3,776.0 362,764 C362.7,752.0 363.7,738.0 365,728 C366.3,718.0 367.8,710.3 370,704 C372.2,697.7 375.5,694.0 378,690 C380.5,686.0 383.7,684.2 385,680 C386.3,675.8 385.5,670.5 386,665 C386.5,659.5 386.3,654.0 388,647 C389.7,640.0 392.3,630.0 396,623 C399.7,616.0 404.0,611.3 410,605 C416.0,598.7 422.3,591.7 432,585 C441.7,578.3 456.0,571.3 468,565 C480.0,558.7 492.0,552.8 504,547 C516.0,541.2 527.3,534.7 540,530 C552.7,525.3 567.7,521.0 580,519 Z" fill="#df9436"/><g clip-path="url(#cpFl)"><path d="M380,740 C379.0,750.0 374.7,780.0 374,800 C373.3,820.0 373.7,841.7 376,860 C378.3,878.3 382.3,895.0 388,910 C393.7,925.0 399.7,938.0 410,950 C420.3,962.0 435.0,973.0 450,982 C465.0,991.0 491.7,1000.3 500,1004 " fill="none" stroke="#e39a3a" stroke-width="34" stroke-linecap="round" stroke-linejoin="round" opacity="1.0" filter="url(#fb4)"/><path d="M377.28,740.0 C376.3,750.0 371.9,780.0 371.28,800.0 C370.6,820.0 370.9,841.7 373.28,860.0 C375.6,878.3 379.6,895.0 385.28,910.0 C390.9,925.0 396.9,938.0 407.28,950.0 C417.6,962.0 432.3,973.0 447.28,982.0 C462.3,991.0 488.9,1000.3 497.28,1004.0 " fill="none" stroke="#e9a240" stroke-width="24.48" stroke-linecap="round" stroke-linejoin="round" opacity="1.0" filter="url(#fb4)"/><path d="M374.56,740.0 C373.6,750.0 369.2,780.0 368.56,800.0 C367.9,820.0 368.2,841.7 370.56,860.0 C372.9,878.3 376.9,895.0 382.56,910.0 C388.2,925.0 394.2,938.0 404.56,950.0 C414.9,962.0 429.6,973.0 444.56,982.0 C459.6,991.0 486.2,1000.3 494.56,1004.0 " fill="none" stroke="#f0ae4c" stroke-width="15.3" stroke-linecap="round" stroke-linejoin="round" opacity="1.0" filter="url(#fb4)"/><path d="M372.52,740.0 C371.5,750.0 367.2,780.0 366.52,800.0 C365.9,820.0 366.2,841.7 368.52,860.0 C370.9,878.3 374.9,895.0 380.52,910.0 C386.2,925.0 392.2,938.0 402.52,950.0 C412.9,962.0 427.5,973.0 442.52,982.0 C457.5,991.0 484.2,1000.3 492.52,1004.0 " fill="none" stroke="#f6c062" stroke-width="5.44" stroke-linecap="round" stroke-linejoin="round" opacity="0.8" filter="url(#fb3)"/><path d="M470,996 C478.3,999.3 503.3,1009.3 520,1016 C536.7,1022.7 555.3,1031.0 570,1036 C584.7,1041.0 601.7,1044.3 608,1046 " fill="none" stroke="#e39a3a" stroke-width="26" stroke-linecap="round" stroke-linejoin="round" opacity="1.0" filter="url(#fb3)"/><path d="M470.0,993.92 C478.3,997.3 503.3,1007.3 520.0,1013.92 C536.7,1020.6 555.3,1028.9 570.0,1033.92 C584.7,1038.9 601.7,1042.3 608.0,1043.92 " fill="none" stroke="#e9a240" stroke-width="18.72" stroke-linecap="round" stroke-linejoin="round" opacity="1.0" filter="url(#fb3)"/><path d="M470.0,991.84 C478.3,995.2 503.3,1005.2 520.0,1011.84 C536.7,1018.5 555.3,1026.8 570.0,1031.84 C584.7,1036.8 601.7,1040.2 608.0,1041.84 " fill="none" stroke="#f0ae4c" stroke-width="11.700000000000001" stroke-linecap="round" stroke-linejoin="round" opacity="1.0" filter="url(#fb3)"/><path d="M470.0,990.28 C478.3,993.6 503.3,1003.6 520.0,1010.28 C536.7,1016.9 555.3,1025.3 570.0,1030.28 C584.7,1035.3 601.7,1038.6 608.0,1040.28 " fill="none" stroke="#f6c062" stroke-width="4.16" stroke-linecap="round" stroke-linejoin="round" opacity="0.8" filter="url(#fb2)"/><path d="M866,690 C868.0,698.3 875.7,721.7 878,740 C880.3,758.3 881.0,781.7 880,800 C879.0,818.3 876.7,834.7 872,850 C867.3,865.3 860.3,879.5 852,892 C843.7,904.5 827.0,919.5 822,925 " fill="none" stroke="#e39a3a" stroke-width="30" stroke-linecap="round" stroke-linejoin="round" opacity="1.0" filter="url(#fb4)"/><path d="M868.4,689.28 C870.4,697.6 878.1,720.9 880.4,739.28 C882.7,757.6 883.4,780.9 882.4,799.28 C881.4,817.6 879.1,833.9 874.4,849.28 C869.7,864.6 862.7,878.8 854.4,891.28 C846.1,903.8 829.4,918.8 824.4,924.28 " fill="none" stroke="#e9a240" stroke-width="21.599999999999998" stroke-linecap="round" stroke-linejoin="round" opacity="1.0" filter="url(#fb4)"/><path d="M870.8,688.56 C872.8,696.9 880.5,720.2 882.8,738.56 C885.1,756.9 885.8,780.2 884.8,798.56 C883.8,816.9 881.5,833.2 876.8,848.56 C872.1,863.9 865.1,878.1 856.8,890.56 C848.5,903.1 831.8,918.1 826.8,923.56 " fill="none" stroke="#f0ae4c" stroke-width="13.5" stroke-linecap="round" stroke-linejoin="round" opacity="1.0" filter="url(#fb4)"/><path d="M872.6,688.02 C874.6,696.4 882.3,719.7 884.6,738.02 C886.9,756.4 887.6,779.7 886.6,798.02 C885.6,816.4 883.3,832.7 878.6,848.02 C873.9,863.4 866.9,877.5 858.6,890.02 C850.3,902.5 833.6,917.5 828.6,923.02 " fill="none" stroke="#f6c062" stroke-width="4.8" stroke-linecap="round" stroke-linejoin="round" opacity="0.8" filter="url(#fb3)"/><path d="M690,992 C698.3,990.0 723.3,985.3 740,980 C756.7,974.7 775.0,968.0 790,960 C805.0,952.0 819.0,942.0 830,932 C841.0,922.0 851.7,905.3 856,900 " fill="none" stroke="#e39a3a" stroke-width="26" stroke-linecap="round" stroke-linejoin="round" opacity="1.0" filter="url(#fb3)"/><path d="M690.624,994.08 C699.0,992.1 724.0,987.4 740.624,982.08 C757.3,976.7 775.6,970.1 790.624,962.08 C805.6,954.1 819.6,944.1 830.624,934.08 C841.6,924.1 852.3,907.4 856.624,902.08 " fill="none" stroke="#e9a240" stroke-width="18.72" stroke-linecap="round" stroke-linejoin="round" opacity="1.0" filter="url(#fb3)"/><path d="M691.248,996.16 C699.6,994.2 724.6,989.5 741.248,984.16 C757.9,978.8 776.2,972.2 791.248,964.16 C806.2,956.2 820.2,946.2 831.248,936.16 C842.2,926.2 852.9,909.5 857.248,904.16 " fill="none" stroke="#f0ae4c" stroke-width="11.700000000000001" stroke-linecap="round" stroke-linejoin="round" opacity="1.0" filter="url(#fb3)"/><path d="M691.716,997.72 C700.0,995.7 725.0,991.1 741.716,985.72 C758.4,980.4 776.7,973.7 791.716,965.72 C806.7,957.7 820.7,947.7 831.716,937.72 C842.7,927.7 853.4,911.1 857.716,905.72 " fill="none" stroke="#f6c062" stroke-width="4.16" stroke-linecap="round" stroke-linejoin="round" opacity="0.8" filter="url(#fb2)"/><path d="M398,672 C398.3,666.7 397.3,649.7 400,640 C402.7,630.3 407.3,621.7 414,614 C420.7,606.3 430.0,600.5 440,594 C450.0,587.5 462.7,581.0 474,575 C485.3,569.0 496.0,563.5 508,558 C520.0,552.5 533.2,546.3 546,542 C558.8,537.7 572.7,533.8 585,532 C597.3,530.2 607.5,530.2 620,531 C632.5,531.8 646.7,534.0 660,537 C673.3,540.0 686.7,543.8 700,549 C713.3,554.2 727.3,560.3 740,568 C752.7,575.7 764.7,587.0 776,595 C787.3,603.0 799.7,609.2 808,616 C816.3,622.8 823.0,632.7 826,636 " fill="none" stroke="#e39a3a" stroke-width="24" stroke-linecap="round" stroke-linejoin="round" opacity="1.0" filter="url(#fb3)"/><path d="M398.0,670.08 C398.3,664.7 397.3,647.7 400.0,638.08 C402.7,628.4 407.3,619.7 414.0,612.08 C420.7,604.4 430.0,598.6 440.0,592.08 C450.0,585.6 462.7,579.1 474.0,573.08 C485.3,567.1 496.0,561.6 508.0,556.08 C520.0,550.6 533.2,544.4 546.0,540.08 C558.8,535.7 572.7,531.9 585.0,530.08 C597.3,528.2 607.5,528.2 620.0,529.08 C632.5,529.9 646.7,532.1 660.0,535.08 C673.3,538.1 686.7,541.9 700.0,547.08 C713.3,552.2 727.3,558.4 740.0,566.08 C752.7,573.7 764.7,585.1 776.0,593.08 C787.3,601.1 799.7,607.2 808.0,614.08 C816.3,620.9 823.0,630.7 826.0,634.08 " fill="none" stroke="#e9a240" stroke-width="17.28" stroke-linecap="round" stroke-linejoin="round" opacity="1.0" filter="url(#fb3)"/><path d="M398.0,668.16 C398.3,662.8 397.3,645.8 400.0,636.16 C402.7,626.5 407.3,617.8 414.0,610.16 C420.7,602.5 430.0,596.7 440.0,590.16 C450.0,583.7 462.7,577.2 474.0,571.16 C485.3,565.2 496.0,559.7 508.0,554.16 C520.0,548.7 533.2,542.5 546.0,538.16 C558.8,533.8 572.7,530.0 585.0,528.16 C597.3,526.3 607.5,526.3 620.0,527.16 C632.5,528.0 646.7,530.2 660.0,533.16 C673.3,536.2 686.7,540.0 700.0,545.16 C713.3,550.3 727.3,556.5 740.0,564.16 C752.7,571.8 764.7,583.2 776.0,591.16 C787.3,599.2 799.7,605.3 808.0,612.16 C816.3,619.0 823.0,628.8 826.0,632.16 " fill="none" stroke="#f0ae4c" stroke-width="10.8" stroke-linecap="round" stroke-linejoin="round" opacity="1.0" filter="url(#fb3)"/><path d="M398.0,666.72 C398.3,661.4 397.3,644.4 400.0,634.72 C402.7,625.1 407.3,616.4 414.0,608.72 C420.7,601.1 430.0,595.2 440.0,588.72 C450.0,582.2 462.7,575.7 474.0,569.72 C485.3,563.7 496.0,558.2 508.0,552.72 C520.0,547.2 533.2,541.1 546.0,536.72 C558.8,532.4 572.7,528.6 585.0,526.72 C597.3,524.9 607.5,524.9 620.0,525.72 C632.5,526.6 646.7,528.7 660.0,531.72 C673.3,534.7 686.7,538.6 700.0,543.72 C713.3,548.9 727.3,555.1 740.0,562.72 C752.7,570.4 764.7,581.7 776.0,589.72 C787.3,597.7 799.7,603.9 808.0,610.72 C816.3,617.6 823.0,627.4 826.0,630.72 " fill="none" stroke="#f6c062" stroke-width="3.84" stroke-linecap="round" stroke-linejoin="round" opacity="0.8" filter="url(#fb2)"/><path d="M760,600 C768.0,596.2 789.0,606.7 800,612 C811.0,617.3 820.7,625.7 826,632 C831.3,638.3 836.3,645.0 832,650 C827.7,655.0 811.0,660.3 800,662 C789.0,663.7 774.0,664.5 766,660 C758.0,655.5 753.0,645.0 752,635 C751.0,625.0 752.0,603.8 760,600 Z" fill="#f0ae4c" opacity="0.7" filter="url(#fb5)"/><path d="M434,643 C438.3,634.2 476.0,602.8 486,607 C496.0,611.2 498.3,659.2 494,668 C489.7,676.8 470.0,664.2 460,660 C450.0,655.8 429.7,651.8 434,643 Z" fill="#e39a3a" opacity="0.7" filter="url(#fb4)"/><path d="M434,643 C438.3,640.2 451.3,631.7 460,626 C468.7,620.3 481.7,611.8 486,609 " fill="none" stroke="#c8661e" stroke-width="5" stroke-linecap="round" stroke-linejoin="round" opacity="0.36" filter="url(#fb3)"/><path d="M434,645 C438.7,646.8 452.3,652.0 462,656 C471.7,660.0 487.0,666.8 492,669 " fill="none" stroke="#c8661e" stroke-width="5" stroke-linecap="round" stroke-linejoin="round" opacity="0.33" filter="url(#fb3)"/><path d="M478,600 C480.3,583.8 488.0,581.7 500,575 C512.0,568.3 531.7,563.8 550,560 C568.3,556.2 590.0,552.7 610,552 C630.0,551.3 650.0,551.7 670,556 C690.0,560.3 715.0,568.7 730,578 C745.0,587.3 755.0,600.0 760,612 C765.0,624.0 763.3,638.0 760,650 C756.7,662.0 751.7,676.0 740,684 C728.3,692.0 713.3,694.7 690,698 C666.7,701.3 628.3,704.3 600,704 C571.7,703.7 539.0,701.3 520,696 C501.0,690.7 493.0,688.0 486,672 C479.0,656.0 475.7,616.2 478,600 Z" fill="#e39a3a" opacity="0.7" filter="url(#fb4)"/><path d="M486,670 C484.7,663.3 478.0,642.0 478,630 C478.0,618.0 480.7,606.7 486,598 C491.3,589.3 499.3,584.0 510,578 C520.7,572.0 535.0,565.7 550,562 C565.0,558.3 583.3,556.7 600,556 C616.7,555.3 633.3,556.0 650,558 C666.7,560.0 685.7,563.7 700,568 C714.3,572.3 727.0,576.8 736,584 C745.0,591.2 750.5,602.3 754,611 C757.5,619.7 757.7,627.8 757,636 C756.3,644.2 753.5,653.2 750,660 C746.5,666.8 742.3,672.0 736,677 C729.7,682.0 716.0,687.8 712,690 " fill="none" stroke="#e39a3a" stroke-width="13" stroke-linecap="round" stroke-linejoin="round" opacity="1.0" filter="url(#fb2)"/><path d="M486.312,668.96 C485.0,662.3 478.3,641.0 478.312,628.96 C478.3,617.0 481.0,605.6 486.312,596.96 C491.6,588.3 499.6,583.0 510.312,576.96 C521.0,571.0 535.3,564.6 550.312,560.96 C565.3,557.3 583.6,555.6 600.312,554.96 C617.0,554.3 633.6,555.0 650.312,556.96 C667.0,559.0 686.0,562.6 700.312,566.96 C714.6,571.3 727.3,575.8 736.312,582.96 C745.3,590.1 750.8,601.3 754.312,609.96 C757.8,618.6 758.0,626.8 757.312,634.96 C756.6,643.1 753.8,652.1 750.312,658.96 C746.8,665.8 742.6,671.0 736.312,675.96 C730.0,681.0 716.3,686.8 712.312,688.96 " fill="none" stroke="#e9a240" stroke-width="9.36" stroke-linecap="round" stroke-linejoin="round" opacity="1.0" filter="url(#fb2)"/><path d="M486.624,667.92 C485.3,661.3 478.6,639.9 478.624,627.92 C478.6,615.9 481.3,604.6 486.624,595.92 C492.0,587.3 500.0,581.9 510.624,575.92 C521.3,569.9 535.6,563.6 550.624,559.92 C565.6,556.3 584.0,554.6 600.624,553.92 C617.3,553.3 634.0,553.9 650.624,555.92 C667.3,557.9 686.3,561.6 700.624,565.92 C715.0,570.3 727.6,574.8 736.624,581.92 C745.6,589.1 751.1,600.3 754.624,608.92 C758.1,617.6 758.3,625.8 757.624,633.92 C757.0,642.1 754.1,651.1 750.624,657.92 C747.1,664.8 743.0,669.9 736.624,674.92 C730.3,679.9 716.6,685.8 712.624,687.92 " fill="none" stroke="#f0ae4c" stroke-width="5.8500000000000005" stroke-linecap="round" stroke-linejoin="round" opacity="1.0" filter="url(#fb2)"/><path d="M486.858,667.14 C485.5,660.5 478.9,639.1 478.858,627.14 C478.9,615.1 481.5,603.8 486.858,595.14 C492.2,586.5 500.2,581.1 510.858,575.14 C521.5,569.1 535.9,562.8 550.858,559.14 C565.9,555.5 584.2,553.8 600.858,553.14 C617.5,552.5 634.2,553.1 650.858,555.14 C667.5,557.1 686.5,560.8 700.858,565.14 C715.2,569.5 727.9,574.0 736.858,581.14 C745.9,588.3 751.4,599.5 754.858,608.14 C758.4,616.8 758.5,625.0 757.858,633.14 C757.2,641.3 754.4,650.3 750.858,657.14 C747.4,664.0 743.2,669.1 736.858,674.14 C730.5,679.1 716.9,685.0 712.858,687.14 " fill="none" stroke="#f6c062" stroke-width="2.08" stroke-linecap="round" stroke-linejoin="round" opacity="0.8" filter="url(#fb1)"/><path d="M668,605 C673.0,599.3 689.7,600.5 700,602 C710.3,603.5 722.7,607.7 730,614 C737.3,620.3 742.7,630.3 744,640 C745.3,649.7 743.3,664.7 738,672 C732.7,679.3 721.7,684.3 712,684 C702.3,683.7 687.0,678.0 680,670 C673.0,662.0 672.0,646.8 670,636 C668.0,625.2 663.0,610.7 668,605 Z" fill="#c8661e" opacity="0.62" filter="url(#fb5)"/><ellipse cx="708" cy="638" rx="12" ry="14" fill="#b45214" opacity="0.5" filter="url(#fb5)"/><path d="M752,640 C756.7,633.5 776.0,641.7 784,645 C792.0,648.3 800.7,653.5 800,660 C799.3,666.5 787.3,680.0 780,684 C772.7,688.0 760.7,691.3 756,684 C751.3,676.7 747.3,646.5 752,640 Z" fill="#c8661e" opacity="0.45" filter="url(#fb5)"/><path d="M514,604 C521.7,597.0 544.0,593.7 560,590 C576.0,586.3 595.0,582.0 610,582 C625.0,582.0 641.3,583.7 650,590 C658.7,596.3 661.0,610.0 662,620 C663.0,630.0 663.0,642.7 656,650 C649.0,657.3 634.3,661.0 620,664 C605.7,667.0 585.0,668.7 570,668 C555.0,667.3 539.3,666.0 530,660 C520.7,654.0 516.7,641.3 514,632 C511.3,622.7 506.3,611.0 514,604 Z" fill="#c8661e" opacity="0.65" filter="url(#fb4)"/><path d="M518,612 C521.0,606.3 532.0,604.3 540,606 C548.0,607.7 561.7,615.0 566,622 C570.3,629.0 570.3,642.3 566,648 C561.7,653.7 547.3,657.3 540,656 C532.7,654.7 525.7,647.3 522,640 C518.3,632.7 515.0,617.7 518,612 Z" fill="#b45214" opacity="0.59" filter="url(#fb5)"/><path d="M614,596 C617.7,591.3 633.7,589.3 640,592 C646.3,594.7 650.7,604.0 652,612 C653.3,620.0 651.7,634.7 648,640 C644.3,645.3 635.0,647.3 630,644 C625.0,640.7 620.7,628.0 618,620 C615.3,612.0 610.3,600.7 614,596 Z" fill="#b45214" opacity="0.62" filter="url(#fb4)"/><ellipse cx="630" cy="618" rx="8" ry="14" fill="#8c4410" opacity="0.39" filter="url(#fb5)"/><ellipse cx="528" cy="628" rx="6" ry="14" fill="#8c4410" opacity="0.39" filter="url(#fb4)"/><path d="M504,600 C504.2,606.0 503.0,626.0 505,636 C507.0,646.0 508.8,654.0 516,660 C523.2,666.0 535.7,669.7 548,672 C560.3,674.3 576.3,675.0 590,674 C603.7,673.0 619.0,670.0 630,666 C641.0,662.0 650.0,657.0 656,650 C662.0,643.0 664.7,632.3 666,624 C667.3,615.7 667.0,606.2 664,600 C661.0,593.8 655.3,589.8 648,587 C640.7,584.2 624.7,583.7 620,583 " fill="none" stroke="#e39a3a" stroke-width="14" stroke-linecap="round" stroke-linejoin="round" opacity="1.0" filter="url(#fb2)"/><path d="M503.664,598.88 C503.8,604.9 502.7,624.9 504.664,634.88 C506.7,644.9 508.5,652.9 515.664,658.88 C522.8,664.9 535.3,668.5 547.664,670.88 C560.0,673.2 576.0,673.9 589.664,672.88 C603.3,671.9 618.7,668.9 629.664,664.88 C640.7,660.9 649.7,655.9 655.664,648.88 C661.7,641.9 664.3,631.2 665.664,622.88 C667.0,614.5 666.7,605.0 663.664,598.88 C660.7,592.7 655.0,588.7 647.664,585.88 C640.3,583.0 624.3,582.5 619.664,581.88 " fill="none" stroke="#e9a240" stroke-width="10.08" stroke-linecap="round" stroke-linejoin="round" opacity="1.0" filter="url(#fb2)"/><path d="M503.328,597.76 C503.5,603.8 502.3,623.8 504.328,633.76 C506.3,643.8 508.2,651.8 515.328,657.76 C522.5,663.8 535.0,667.4 547.328,669.76 C559.7,672.1 575.7,672.8 589.328,671.76 C603.0,670.8 618.3,667.8 629.328,663.76 C640.3,659.8 649.3,654.8 655.328,647.76 C661.3,640.8 664.0,630.1 665.328,621.76 C666.7,613.4 666.3,603.9 663.328,597.76 C660.3,591.6 654.7,587.6 647.328,584.76 C640.0,581.9 624.0,581.4 619.328,580.76 " fill="none" stroke="#f0ae4c" stroke-width="6.3" stroke-linecap="round" stroke-linejoin="round" opacity="1.0" filter="url(#fb2)"/><path d="M503.076,596.92 C503.2,602.9 502.1,622.9 504.076,632.92 C506.1,642.9 507.9,650.9 515.076,656.92 C522.2,662.9 534.7,666.6 547.076,668.92 C559.4,671.3 575.4,671.9 589.076,670.92 C602.7,669.9 618.1,666.9 629.076,662.92 C640.1,658.9 649.1,653.9 655.076,646.92 C661.1,639.9 663.7,629.3 665.076,620.92 C666.4,612.6 666.1,603.1 663.076,596.92 C660.1,590.8 654.4,586.8 647.076,583.92 C639.7,581.1 623.7,580.6 619.076,579.92 " fill="none" stroke="#f6c062" stroke-width="2.24" stroke-linecap="round" stroke-linejoin="round" opacity="0.8" filter="url(#fb1)"/><path d="M589,569 C593.2,569.2 595.7,569.8 600,575 C604.3,580.2 610.3,591.2 615,600 C619.7,608.8 624.2,620.0 628,628 C631.8,636.0 639.3,644.0 638,648 C636.7,652.0 626.3,652.7 620,652 C613.7,651.3 607.5,647.3 600,644 C592.5,640.7 583.3,636.0 575,632 C566.7,628.0 557.5,623.3 550,620 C542.5,616.7 535.5,614.3 530,612 C524.5,609.7 517.0,608.7 517,606 C517.0,603.3 523.7,599.7 530,596 C536.3,592.3 547.5,587.7 555,584 C562.5,580.3 569.3,576.5 575,574 C580.7,571.5 584.8,568.8 589,569 Z" fill="#e9a240" opacity="1" filter="url(#fb2)"/><path d="M540,612 C544.2,611.3 560.0,619.3 570,624 C580.0,628.7 591.3,635.3 600,640 C608.7,644.7 622.0,650.0 622,652 C622.0,654.0 608.7,654.0 600,652 C591.3,650.0 579.2,644.0 570,640 C560.8,636.0 550.0,632.7 545,628 C540.0,623.3 535.8,612.7 540,612 Z" fill="#e39a3a" opacity="0.8" filter="url(#fb3)"/><path d="M580,580 C584.3,576.3 591.3,579.7 596,584 C600.7,588.3 604.7,598.0 608,606 C611.3,614.0 616.7,626.3 616,632 C615.3,637.7 609.2,641.0 604,640 C598.8,639.0 590.7,631.7 585,626 C579.3,620.3 570.8,613.7 570,606 C569.2,598.3 575.7,583.7 580,580 Z" fill="#f0ae4c" opacity="0.9" filter="url(#fb4)"/><path d="M530,600 C531.7,596.7 551.7,589.0 560,586 C568.3,583.0 577.5,579.7 580,582 C582.5,584.3 580.0,596.0 575,600 C570.0,604.0 557.5,606.0 550,606 C542.5,606.0 528.3,603.3 530,600 Z" fill="#f0ae4c" opacity="0.7" filter="url(#fb3)"/><path d="M522,604 C526.3,602.0 540.0,596.3 548,592 C556.0,587.7 563.2,581.7 570,578 C576.8,574.3 584.3,570.3 589,570 C593.7,569.7 596.5,575.0 598,576 " fill="none" stroke="#f6c062" stroke-width="4" stroke-linecap="round" stroke-linejoin="round" opacity="0.8" filter="url(#fb2)"/><path d="M600,578 C602.3,581.7 609.3,591.7 614,600 C618.7,608.3 624.0,620.0 628,628 C632.0,636.0 636.3,644.7 638,648 " fill="none" stroke="#b45214" stroke-width="3" stroke-linecap="round" stroke-linejoin="round" opacity="0.39" filter="url(#fb1.5)"/><path d="M382,692 C390.0,693.3 412.0,697.0 430,700 C448.0,703.0 470.0,707.0 490,710 C510.0,713.0 530.0,715.7 550,718 C570.0,720.3 593.0,722.0 610,724 C627.0,726.0 645.0,729.0 652,730 " fill="none" stroke="#e39a3a" stroke-width="24" stroke-linecap="round" stroke-linejoin="round" opacity="1.0" filter="url(#fb3)"/><path d="M382.0,690.08 C390.0,691.4 412.0,695.1 430.0,698.08 C448.0,701.1 470.0,705.1 490.0,708.08 C510.0,711.1 530.0,713.7 550.0,716.08 C570.0,718.4 593.0,720.1 610.0,722.08 C627.0,724.1 645.0,727.1 652.0,728.08 " fill="none" stroke="#e9a240" stroke-width="17.28" stroke-linecap="round" stroke-linejoin="round" opacity="1.0" filter="url(#fb3)"/><path d="M382.0,688.16 C390.0,689.5 412.0,693.2 430.0,696.16 C448.0,699.2 470.0,703.2 490.0,706.16 C510.0,709.2 530.0,711.8 550.0,714.16 C570.0,716.5 593.0,718.2 610.0,720.16 C627.0,722.2 645.0,725.2 652.0,726.16 " fill="none" stroke="#f0ae4c" stroke-width="10.8" stroke-linecap="round" stroke-linejoin="round" opacity="1.0" filter="url(#fb3)"/><path d="M382.0,686.72 C390.0,688.1 412.0,691.7 430.0,694.72 C448.0,697.7 470.0,701.7 490.0,704.72 C510.0,707.7 530.0,710.4 550.0,712.72 C570.0,715.1 593.0,716.7 610.0,718.72 C627.0,720.7 645.0,723.7 652.0,724.72 " fill="none" stroke="#f6c062" stroke-width="3.84" stroke-linecap="round" stroke-linejoin="round" opacity="0.8" filter="url(#fb2)"/><path d="M630,724 C638.3,721.7 663.3,714.2 680,710 C696.7,705.8 711.7,703.7 730,699 C748.3,694.3 773.0,686.5 790,682 C807.0,677.5 820.0,673.0 832,672 C844.0,671.0 853.7,671.7 862,676 C870.3,680.3 878.7,694.3 882,698 " fill="none" stroke="#e39a3a" stroke-width="24" stroke-linecap="round" stroke-linejoin="round" opacity="1.0" filter="url(#fb3)"/><path d="M630.0,722.08 C638.3,719.7 663.3,712.2 680.0,708.08 C696.7,703.9 711.7,701.7 730.0,697.08 C748.3,692.4 773.0,684.6 790.0,680.08 C807.0,675.6 820.0,671.1 832.0,670.08 C844.0,669.1 853.7,669.7 862.0,674.08 C870.3,678.4 878.7,692.4 882.0,696.08 " fill="none" stroke="#e9a240" stroke-width="17.28" stroke-linecap="round" stroke-linejoin="round" opacity="1.0" filter="url(#fb3)"/><path d="M630.0,720.16 C638.3,717.8 663.3,710.3 680.0,706.16 C696.7,702.0 711.7,699.8 730.0,695.16 C748.3,690.5 773.0,682.7 790.0,678.16 C807.0,673.7 820.0,669.2 832.0,668.16 C844.0,667.2 853.7,667.8 862.0,672.16 C870.3,676.5 878.7,690.5 882.0,694.16 " fill="none" stroke="#f0ae4c" stroke-width="10.8" stroke-linecap="round" stroke-linejoin="round" opacity="1.0" filter="url(#fb3)"/><path d="M630.0,718.72 C638.3,716.4 663.3,708.9 680.0,704.72 C696.7,700.6 711.7,698.4 730.0,693.72 C748.3,689.1 773.0,681.2 790.0,676.72 C807.0,672.2 820.0,667.7 832.0,666.72 C844.0,665.7 853.7,666.4 862.0,670.72 C870.3,675.1 878.7,689.1 882.0,692.72 " fill="none" stroke="#f6c062" stroke-width="3.84" stroke-linecap="round" stroke-linejoin="round" opacity="0.8" filter="url(#fb2)"/><path d="M596,744 C598.0,738.7 607.7,737.3 612,740 C616.3,742.7 621.3,753.7 622,760 C622.7,766.3 619.7,776.0 616,778 C612.3,780.0 603.3,777.7 600,772 C596.7,766.3 594.0,749.3 596,744 Z" fill="#c8661e" opacity="0.52" filter="url(#fb4)"/><ellipse cx="604" cy="750" rx="10" ry="6" fill="#8c4410" opacity="0.33" filter="url(#fb4)"/><ellipse cx="668" cy="731" rx="10" ry="6" fill="#b45214" opacity="0.36" filter="url(#fb3)"/><path d="M548,778 C553.2,771.3 567.7,770.0 575,772 C582.3,774.0 588.8,781.0 592,790 C595.2,799.0 596.0,816.7 594,826 C592.0,835.3 586.0,843.3 580,846 C574.0,848.7 564.0,847.7 558,842 C552.0,836.3 545.7,822.7 544,812 C542.3,801.3 542.8,784.7 548,778 Z" fill="#c8661e" opacity="0.55" filter="url(#fb6)"/><ellipse cx="568" cy="792" rx="12" ry="10" fill="#8c4410" opacity="0.55" filter="url(#fb4)"/><path d="M532,800 C538.7,795.0 561.0,795.0 570,800 C579.0,805.0 584.3,819.7 586,830 C587.7,840.3 587.7,856.7 580,862 C572.3,867.3 548.3,867.3 540,862 C531.7,856.7 531.3,840.3 530,830 C528.7,819.7 525.3,805.0 532,800 Z" fill="#c8661e" opacity="0.33" filter="url(#fb7)"/><path d="M456,840 C459.7,831.3 467.0,828.3 474,828 C481.0,827.7 491.3,830.7 498,838 C504.7,845.3 512.3,858.7 514,872 C515.7,885.3 513.0,908.0 508,918 C503.0,928.0 491.7,932.0 484,932 C476.3,932.0 467.3,926.7 462,918 C456.7,909.3 453.0,893.0 452,880 C451.0,867.0 452.3,848.7 456,840 Z" fill="#c8661e" opacity="0.39" filter="url(#fb8)"/><path d="M592,768 C584.2,766.3 560.8,759.3 545,758 C529.2,756.7 511.5,757.7 497,760 C482.5,762.3 469.5,766.3 458,772 C446.5,777.7 435.7,785.3 428,794 C420.3,802.7 415.7,813.3 412,824 C408.3,834.7 406.0,846.5 406,858 C406.0,869.5 407.7,881.8 412,893 C416.3,904.2 423.7,915.5 432,925 C440.3,934.5 450.3,942.8 462,950 C473.7,957.2 489.0,962.7 502,968 C515.0,973.3 527.3,976.7 540,982 C552.7,987.3 571.7,997.0 578,1000 " fill="none" stroke="#e39a3a" stroke-width="20" stroke-linecap="round" stroke-linejoin="round" opacity="1.0" filter="url(#fb2)"/><path d="M590.4,767.36 C582.6,765.7 559.2,758.7 543.4,757.36 C527.6,756.0 509.9,757.0 495.4,759.36 C480.9,761.7 467.9,765.7 456.4,771.36 C444.9,777.0 434.1,784.7 426.4,793.36 C418.7,802.0 414.1,812.7 410.4,823.36 C406.7,834.0 404.4,845.9 404.4,857.36 C404.4,868.9 406.1,881.2 410.4,892.36 C414.7,903.5 422.1,914.9 430.4,924.36 C438.7,933.9 448.7,942.2 460.4,949.36 C472.1,956.5 487.4,962.0 500.4,967.36 C513.4,972.7 525.7,976.0 538.4,981.36 C551.1,986.7 570.1,996.4 576.4,999.36 " fill="none" stroke="#e9a240" stroke-width="14.399999999999999" stroke-linecap="round" stroke-linejoin="round" opacity="1.0" filter="url(#fb2)"/><path d="M588.8,766.72 C581.0,765.1 557.6,758.1 541.8,756.72 C526.0,755.4 508.3,756.4 493.8,758.72 C479.3,761.1 466.3,765.1 454.8,770.72 C443.3,776.4 432.5,784.1 424.8,792.72 C417.1,801.4 412.5,812.1 408.8,822.72 C405.1,833.4 402.8,845.2 402.8,856.72 C402.8,868.2 404.5,880.6 408.8,891.72 C413.1,902.9 420.5,914.2 428.8,923.72 C437.1,933.2 447.1,941.6 458.8,948.72 C470.5,955.9 485.8,961.4 498.8,966.72 C511.8,972.1 524.1,975.4 536.8,980.72 C549.5,986.1 568.5,995.7 574.8,998.72 " fill="none" stroke="#f0ae4c" stroke-width="9.0" stroke-linecap="round" stroke-linejoin="round" opacity="1.0" filter="url(#fb2)"/><path d="M587.6,766.24 C579.8,764.6 556.4,757.6 540.6,756.24 C524.8,754.9 507.1,755.9 492.6,758.24 C478.1,760.6 465.1,764.6 453.6,770.24 C442.1,775.9 431.3,783.6 423.6,792.24 C415.9,800.9 411.3,811.6 407.6,822.24 C403.9,832.9 401.6,844.7 401.6,856.24 C401.6,867.7 403.3,880.1 407.6,891.24 C411.9,902.4 419.3,913.7 427.6,923.24 C435.9,932.7 445.9,941.1 457.6,948.24 C469.3,955.4 484.6,960.9 497.6,966.24 C510.6,971.6 522.9,974.9 535.6,980.24 C548.3,985.6 567.3,995.2 573.6,998.24 " fill="none" stroke="#f6c062" stroke-width="3.2" stroke-linecap="round" stroke-linejoin="round" opacity="0.8" filter="url(#fb1)"/><path d="M508,816 C502.0,817.0 481.8,818.3 472,822 C462.2,825.7 454.3,831.0 449,838 C443.7,845.0 440.7,854.3 440,864 C439.3,873.7 440.7,885.8 445,896 C449.3,906.2 457.2,917.3 466,925 C474.8,932.7 487.7,937.8 498,942 C508.3,946.2 523.0,948.7 528,950 " fill="none" stroke="#e39a3a" stroke-width="13" stroke-linecap="round" stroke-linejoin="round" opacity="1.0" filter="url(#fb2)"/><path d="M506.96,815.688 C501.0,816.7 480.8,818.0 470.96,821.688 C461.1,825.4 453.3,830.7 447.96,837.688 C442.6,844.7 439.6,854.0 438.96,863.688 C438.3,873.4 439.6,885.5 443.96,895.688 C448.3,905.9 456.1,917.0 464.96,924.688 C473.8,932.4 486.6,937.5 496.96,941.688 C507.3,945.9 522.0,948.4 526.96,949.688 " fill="none" stroke="#e9a240" stroke-width="9.36" stroke-linecap="round" stroke-linejoin="round" opacity="1.0" filter="url(#fb2)"/><path d="M505.92,815.376 C499.9,816.4 479.8,817.7 469.92,821.376 C460.1,825.0 452.3,830.4 446.92,837.376 C441.6,844.4 438.6,853.7 437.92,863.376 C437.3,873.0 438.6,885.2 442.92,895.376 C447.3,905.5 455.1,916.7 463.92,924.376 C472.8,932.0 485.6,937.2 495.92,941.376 C506.3,945.5 520.9,948.0 525.92,949.376 " fill="none" stroke="#f0ae4c" stroke-width="5.8500000000000005" stroke-linecap="round" stroke-linejoin="round" opacity="1.0" filter="url(#fb2)"/><path d="M505.14,815.142 C499.1,816.1 479.0,817.5 469.14,821.142 C459.3,824.8 451.5,830.1 446.14,837.142 C440.8,844.1 437.8,853.5 437.14,863.142 C436.5,872.8 437.8,885.0 442.14,895.142 C446.5,905.3 454.3,916.5 463.14,924.142 C472.0,931.8 484.8,937.0 495.14,941.142 C505.5,945.3 520.1,947.8 525.14,949.142 " fill="none" stroke="#f6c062" stroke-width="2.08" stroke-linecap="round" stroke-linejoin="round" opacity="0.8" filter="url(#fb1)"/><ellipse cx="496" cy="888" rx="6" ry="8" fill="#f6c062" opacity="0.8" filter="url(#fb1)"/><path d="M580,878 C579.5,885.0 577.0,906.0 577,920 C577.0,934.0 578.8,949.5 580,962 C581.2,974.5 582.7,986.7 584,995 C585.3,1003.3 587.3,1009.2 588,1012 " fill="none" stroke="#b45214" stroke-width="7" stroke-linecap="round" stroke-linejoin="round" opacity="0.52" filter="url(#fb3)"/><path d="M596,798 C598.0,804.2 605.3,822.2 608,835 C610.7,847.8 611.7,860.8 612,875 C612.3,889.2 611.0,905.5 610,920 C609.0,934.5 606.7,948.7 606,962 C605.3,975.3 605.7,986.2 606,1000 C606.3,1013.8 607.7,1037.5 608,1045 " fill="none" stroke="#e39a3a" stroke-width="24" stroke-linecap="round" stroke-linejoin="round" opacity="1.0" filter="url(#fb3)"/><path d="M597.92,798.0 C599.9,804.2 607.3,822.2 609.92,835.0 C612.6,847.8 613.6,860.8 613.92,875.0 C614.3,889.2 612.9,905.5 611.92,920.0 C610.9,934.5 608.6,948.7 607.92,962.0 C607.3,975.3 607.6,986.2 607.92,1000.0 C608.3,1013.8 609.6,1037.5 609.92,1045.0 " fill="none" stroke="#e9a240" stroke-width="17.28" stroke-linecap="round" stroke-linejoin="round" opacity="1.0" filter="url(#fb3)"/><path d="M599.84,798.0 C601.8,804.2 609.2,822.2 611.84,835.0 C614.5,847.8 615.5,860.8 615.84,875.0 C616.2,889.2 614.8,905.5 613.84,920.0 C612.8,934.5 610.5,948.7 609.84,962.0 C609.2,975.3 609.5,986.2 609.84,1000.0 C610.2,1013.8 611.5,1037.5 611.84,1045.0 " fill="none" stroke="#f0ae4c" stroke-width="10.8" stroke-linecap="round" stroke-linejoin="round" opacity="1.0" filter="url(#fb3)"/><path d="M601.28,798.0 C603.3,804.2 610.6,822.2 613.28,835.0 C615.9,847.8 616.9,860.8 617.28,875.0 C617.6,889.2 616.3,905.5 615.28,920.0 C614.3,934.5 611.9,948.7 611.28,962.0 C610.6,975.3 610.9,986.2 611.28,1000.0 C611.6,1013.8 612.9,1037.5 613.28,1045.0 " fill="none" stroke="#f6c062" stroke-width="3.84" stroke-linecap="round" stroke-linejoin="round" opacity="0.8" filter="url(#fb2)"/><path d="M528,905 C530.0,910.8 536.3,928.3 540,940 C543.7,951.7 547.3,963.3 550,975 C552.7,986.7 554.3,998.8 556,1010 C557.7,1021.2 559.3,1036.7 560,1042 " fill="none" stroke="#e39a3a" stroke-width="30" stroke-linecap="round" stroke-linejoin="round" opacity="0.8" filter="url(#fb4)"/><path d="M528.0,902.6 C530.0,908.4 536.3,925.9 540.0,937.6 C543.7,949.3 547.3,960.9 550.0,972.6 C552.7,984.3 554.3,996.4 556.0,1007.6 C557.7,1018.8 559.3,1034.3 560.0,1039.6 " fill="none" stroke="#e9a240" stroke-width="21.599999999999998" stroke-linecap="round" stroke-linejoin="round" opacity="0.8" filter="url(#fb4)"/><path d="M528.0,900.2 C530.0,906.0 536.3,923.5 540.0,935.2 C543.7,946.9 547.3,958.5 550.0,970.2 C552.7,981.9 554.3,994.0 556.0,1005.2 C557.7,1016.4 559.3,1031.9 560.0,1037.2 " fill="none" stroke="#f0ae4c" stroke-width="13.5" stroke-linecap="round" stroke-linejoin="round" opacity="0.8" filter="url(#fb4)"/><path d="M528.0,898.4 C530.0,904.2 536.3,921.7 540.0,933.4 C543.7,945.1 547.3,956.7 550.0,968.4 C552.7,980.1 554.3,992.2 556.0,1003.4 C557.7,1014.6 559.3,1030.1 560.0,1035.4 " fill="none" stroke="#f6c062" stroke-width="4.8" stroke-linecap="round" stroke-linejoin="round" opacity="0.6400000000000001" filter="url(#fb3)"/><path d="M652,814 C652.7,823.3 655.0,850.7 656,870 C657.0,889.3 658.0,910.0 658,930 C658.0,950.0 657.7,976.0 656,990 C654.3,1004.0 649.3,1010.0 648,1014 " fill="none" stroke="#e39a3a" stroke-width="30" stroke-linecap="round" stroke-linejoin="round" opacity="1.0" filter="url(#fb4)"/><path d="M654.4,814.0 C655.1,823.3 657.4,850.7 658.4,870.0 C659.4,889.3 660.4,910.0 660.4,930.0 C660.4,950.0 660.1,976.0 658.4,990.0 C656.7,1004.0 651.7,1010.0 650.4,1014.0 " fill="none" stroke="#e9a240" stroke-width="21.599999999999998" stroke-linecap="round" stroke-linejoin="round" opacity="1.0" filter="url(#fb4)"/><path d="M656.8,814.0 C657.5,823.3 659.8,850.7 660.8,870.0 C661.8,889.3 662.8,910.0 662.8,930.0 C662.8,950.0 662.5,976.0 660.8,990.0 C659.1,1004.0 654.1,1010.0 652.8,1014.0 " fill="none" stroke="#f0ae4c" stroke-width="13.5" stroke-linecap="round" stroke-linejoin="round" opacity="1.0" filter="url(#fb4)"/><path d="M658.6,814.0 C659.3,823.3 661.6,850.7 662.6,870.0 C663.6,889.3 664.6,910.0 664.6,930.0 C664.6,950.0 664.3,976.0 662.6,990.0 C660.9,1004.0 655.9,1010.0 654.6,1014.0 " fill="none" stroke="#f6c062" stroke-width="4.8" stroke-linecap="round" stroke-linejoin="round" opacity="0.8" filter="url(#fb3)"/><path d="M676,786 C675.3,793.3 672.7,816.0 672,830 C671.3,844.0 671.3,858.3 672,870 C672.7,881.7 674.0,890.0 676,900 C678.0,910.0 682.7,925.0 684,930 " fill="none" stroke="#b45214" stroke-width="8" stroke-linecap="round" stroke-linejoin="round" opacity="0.55" filter="url(#fb3)"/><path d="M725,857 C727.2,848.7 735.3,846.2 740,850 C744.7,853.8 750.8,866.7 753,880 C755.2,893.3 754.2,917.5 753,930 C751.8,942.5 749.3,953.0 746,955 C742.7,957.0 736.2,951.2 733,942 C729.8,932.8 728.3,914.2 727,900 C725.7,885.8 722.8,865.3 725,857 Z" fill="#c8661e" opacity="0.55" filter="url(#fb5)"/><path d="M738,772 C743.0,764.5 751.5,763.3 760,760 C768.5,756.7 782.8,747.0 789,752 C795.2,757.0 796.8,777.0 797,790 C797.2,803.0 795.2,821.3 790,830 C784.8,838.7 774.3,841.0 766,842 C757.7,843.0 746.0,842.2 740,836 C734.0,829.8 730.3,815.7 730,805 C729.7,794.3 733.0,779.5 738,772 Z" fill="#c8661e" opacity="0.59" filter="url(#fb5)"/><ellipse cx="768" cy="815" rx="12" ry="16" fill="#b45214" opacity="0.52" filter="url(#fb5)"/><path d="M862,696 C857.0,698.7 842.0,706.3 832,712 C822.0,717.7 811.0,723.8 802,730 C793.0,736.2 785.7,743.3 778,749 C770.3,754.7 759.7,761.5 756,764 " fill="none" stroke="#c8661e" stroke-width="11" stroke-linecap="round" stroke-linejoin="round" opacity="0.55" filter="url(#fb4)"/><path d="M792,752 C800.7,739.0 835.8,720.7 846,722 C856.2,723.3 853.0,747.0 853,760 C853.0,773.0 850.5,788.0 846,800 C841.5,812.0 833.3,825.0 826,832 C818.7,839.0 807.3,847.3 802,842 C796.7,836.7 795.7,815.0 794,800 C792.3,785.0 783.3,765.0 792,752 Z" fill="#f0ae4c" opacity="0.8" filter="url(#fb5)"/><path d="M847,726 C846.5,728.5 845.2,735.8 844,741 C842.8,746.2 840.7,754.3 840,757 " fill="none" stroke="#b45214" stroke-width="5" stroke-linecap="round" stroke-linejoin="round" opacity="0.52" filter="url(#fb2)"/><ellipse cx="799" cy="879" rx="12" ry="12" fill="#b45214" opacity="0.49" filter="url(#fb4)"/><path d="M700,790 C699.7,798.3 698.0,823.3 698,840 C698.0,856.7 698.7,873.3 700,890 C701.3,906.7 702.7,925.3 706,940 C709.3,954.7 713.5,968.8 720,978 C726.5,987.2 740.8,992.2 745,995 " fill="none" stroke="#e39a3a" stroke-width="26" stroke-linecap="round" stroke-linejoin="round" opacity="1.0" filter="url(#fb3)"/><path d="M702.08,790.0 C701.7,798.3 700.1,823.3 700.08,840.0 C700.1,856.7 700.7,873.3 702.08,890.0 C703.4,906.7 704.7,925.3 708.08,940.0 C711.4,954.7 715.6,968.8 722.08,978.0 C728.6,987.2 742.9,992.2 747.08,995.0 " fill="none" stroke="#e9a240" stroke-width="18.72" stroke-linecap="round" stroke-linejoin="round" opacity="1.0" filter="url(#fb3)"/><path d="M704.16,790.0 C703.8,798.3 702.2,823.3 702.16,840.0 C702.2,856.7 702.8,873.3 704.16,890.0 C705.5,906.7 706.8,925.3 710.16,940.0 C713.5,954.7 717.7,968.8 724.16,978.0 C730.7,987.2 745.0,992.2 749.16,995.0 " fill="none" stroke="#f0ae4c" stroke-width="11.700000000000001" stroke-linecap="round" stroke-linejoin="round" opacity="1.0" filter="url(#fb3)"/><path d="M705.72,790.0 C705.4,798.3 703.7,823.3 703.72,840.0 C703.7,856.7 704.4,873.3 705.72,890.0 C707.1,906.7 708.4,925.3 711.72,940.0 C715.1,954.7 719.2,968.8 725.72,978.0 C732.2,987.2 746.6,992.2 750.72,995.0 " fill="none" stroke="#f6c062" stroke-width="4.16" stroke-linecap="round" stroke-linejoin="round" opacity="0.8" filter="url(#fb2)"/><path d="M700,746 C705.0,743.2 719.5,734.3 730,729 C740.5,723.7 751.3,718.3 763,714 C774.7,709.7 788.8,706.2 800,703 C811.2,699.8 820.7,697.3 830,695 C839.3,692.7 851.7,690.0 856,689 " fill="none" stroke="#e39a3a" stroke-width="18" stroke-linecap="round" stroke-linejoin="round" opacity="1.0" filter="url(#fb2)"/><path d="M700.0,744.56 C705.0,741.7 719.5,732.9 730.0,727.56 C740.5,722.2 751.3,716.9 763.0,712.56 C774.7,708.2 788.8,704.7 800.0,701.56 C811.2,698.4 820.7,695.9 830.0,693.56 C839.3,691.2 851.7,688.6 856.0,687.56 " fill="none" stroke="#e9a240" stroke-width="12.959999999999999" stroke-linecap="round" stroke-linejoin="round" opacity="1.0" filter="url(#fb2)"/><path d="M700.0,743.12 C705.0,740.3 719.5,731.5 730.0,726.12 C740.5,720.8 751.3,715.5 763.0,711.12 C774.7,706.8 788.8,703.3 800.0,700.12 C811.2,697.0 820.7,694.5 830.0,692.12 C839.3,689.8 851.7,687.1 856.0,686.12 " fill="none" stroke="#f0ae4c" stroke-width="8.1" stroke-linecap="round" stroke-linejoin="round" opacity="1.0" filter="url(#fb2)"/><path d="M700.0,742.04 C705.0,739.2 719.5,730.4 730.0,725.04 C740.5,719.7 751.3,714.4 763.0,710.04 C774.7,705.7 788.8,702.2 800.0,699.04 C811.2,695.9 820.7,693.4 830.0,691.04 C839.3,688.7 851.7,686.0 856.0,685.04 " fill="none" stroke="#f6c062" stroke-width="2.88" stroke-linecap="round" stroke-linejoin="round" opacity="0.8" filter="url(#fb1)"/><path d="M790,852 C792.7,850.0 800.0,840.8 806,840 C812.0,839.2 820.8,841.7 826,847 C831.2,852.3 836.2,863.2 837,872 C837.8,880.8 834.5,892.3 831,900 C827.5,907.7 818.5,915.0 816,918 " fill="none" stroke="#e39a3a" stroke-width="10" stroke-linecap="round" stroke-linejoin="round" opacity="1.0" filter="url(#fb1)"/><path d="M790.8,851.6 C793.5,849.6 800.8,840.4 806.8,839.6 C812.8,838.8 821.6,841.3 826.8,846.6 C832.0,851.9 837.0,862.8 837.8,871.6 C838.6,880.4 835.3,891.9 831.8,899.6 C828.3,907.3 819.3,914.6 816.8,917.6 " fill="none" stroke="#e9a240" stroke-width="7.199999999999999" stroke-linecap="round" stroke-linejoin="round" opacity="1.0" filter="url(#fb1)"/><path d="M791.6,851.2 C794.3,849.2 801.6,840.0 807.6,839.2 C813.6,838.4 822.4,840.9 827.6,846.2 C832.8,851.5 837.8,862.4 838.6,871.2 C839.4,880.0 836.1,891.5 832.6,899.2 C829.1,906.9 820.1,914.2 817.6,917.2 " fill="none" stroke="#f0ae4c" stroke-width="4.5" stroke-linecap="round" stroke-linejoin="round" opacity="1.0" filter="url(#fb1)"/><path d="M792.2,850.9 C794.9,848.9 802.2,839.7 808.2,838.9 C814.2,838.1 823.0,840.6 828.2,845.9 C833.4,851.2 838.4,862.1 839.2,870.9 C840.0,879.7 836.7,891.2 833.2,898.9 C829.7,906.6 820.7,913.9 818.2,916.9 " fill="none" stroke="#f6c062" stroke-width="1.6" stroke-linecap="round" stroke-linejoin="round" opacity="0.8" filter="url(#fb1)"/><path d="M618,738 C624.0,729.3 647.7,729.3 660,730 C672.3,730.7 688.7,735.0 692,742 C695.3,749.0 686.7,762.3 680,772 C673.3,781.7 659.0,794.0 652,800 C645.0,806.0 642.7,811.0 638,808 C633.3,805.0 627.3,793.7 624,782 C620.7,770.3 612.0,746.7 618,738 Z" fill="#f0ae4c" opacity="0.75" filter="url(#fb5)"/><path d="M392,680 C400.0,681.0 423.7,684.3 440,686 C456.3,687.7 468.3,687.3 490,690 C511.7,692.7 543.3,700.0 570,702 C596.7,704.0 626.3,703.3 650,702 C673.7,700.7 696.0,698.3 712,694 C728.0,689.7 736.7,684.0 746,676 C755.3,668.0 764.7,657.7 768,646 C771.3,634.3 769.3,617.3 766,606 C762.7,594.7 755.3,585.3 748,578 C740.7,570.7 726.3,564.7 722,562 " fill="none" stroke="#b45214" stroke-width="2.6" stroke-linecap="round" stroke-linejoin="round" opacity="0.5" filter="url(#fb1.2)"/><path d="M496,598 C495.7,604.3 492.7,625.0 494,636 C495.3,647.0 496.3,656.3 504,664 C511.7,671.7 525.7,678.7 540,682 C554.3,685.3 574.0,685.0 590,684 C606.0,683.0 623.7,680.3 636,676 C648.3,671.7 657.3,666.0 664,658 C670.7,650.0 674.3,638.0 676,628 C677.7,618.0 677.3,605.7 674,598 C670.7,590.3 659.0,584.7 656,582 " fill="none" stroke="#b45214" stroke-width="2.6" stroke-linecap="round" stroke-linejoin="round" opacity="0.5" filter="url(#fb1.2)"/><path d="M380,706 C388.3,707.7 411.7,712.3 430,716 C448.3,719.7 470.0,724.0 490,728 C510.0,732.0 531.7,736.0 550,740 C568.3,744.0 591.7,750.0 600,752 " fill="none" stroke="#b45214" stroke-width="2.6" stroke-linecap="round" stroke-linejoin="round" opacity="0.5" filter="url(#fb1.2)"/><path d="M636,740 C644.0,737.7 667.7,730.3 684,726 C700.3,721.7 716.3,718.8 734,714 C751.7,709.2 770.7,701.3 790,697 C809.3,692.7 835.3,687.5 850,688 C864.7,688.5 873.3,698.0 878,700 " fill="none" stroke="#b45214" stroke-width="2.6" stroke-linecap="round" stroke-linejoin="round" opacity="0.5" filter="url(#fb1.2)"/><path d="M626,712 C633.3,709.7 652.7,702.3 670,698 C687.3,693.7 710.0,691.3 730,686 C750.0,680.7 772.3,670.8 790,666 C807.7,661.2 828.3,658.5 836,657 " fill="none" stroke="#b45214" stroke-width="2.6" stroke-linecap="round" stroke-linejoin="round" opacity="0.5" filter="url(#fb1.2)"/><path d="M590,774 C580.0,773.7 547.7,771.0 530,772 C512.3,773.0 497.3,775.7 484,780 C470.7,784.3 459.3,790.7 450,798 C440.7,805.3 433.0,814.0 428,824 C423.0,834.0 420.7,846.2 420,858 C419.3,869.8 420.3,883.3 424,895 C427.7,906.7 433.7,918.8 442,928 C450.3,937.2 462.3,944.3 474,950 C485.7,955.7 505.7,960.0 512,962 " fill="none" stroke="#b45214" stroke-width="2.6" stroke-linecap="round" stroke-linejoin="round" opacity="0.5" filter="url(#fb1.2)"/><path d="M408,792 C406.0,798.3 398.5,817.0 396,830 C393.5,843.0 392.5,856.7 393,870 C393.5,883.3 394.8,897.5 399,910 C403.2,922.5 409.5,934.7 418,945 C426.5,955.3 437.7,964.2 450,972 C462.3,979.8 477.0,986.0 492,992 C507.0,998.0 532.0,1005.3 540,1008 " fill="none" stroke="#b45214" stroke-width="2.6" stroke-linecap="round" stroke-linejoin="round" opacity="0.5" filter="url(#fb1.2)"/><path d="M554,806 C546.7,807.3 523.7,810.3 510,814 C496.3,817.7 481.2,822.7 472,828 C462.8,833.3 458.8,839.0 455,846 C451.2,853.0 449.0,861.0 449,870 C449.0,879.0 451.2,891.0 455,900 C458.8,909.0 464.5,917.7 472,924 C479.5,930.3 495.3,935.7 500,938 " fill="none" stroke="#b45214" stroke-width="2.6" stroke-linecap="round" stroke-linejoin="round" opacity="0.5" filter="url(#fb1.2)"/><path d="M632,805 C631.7,814.2 630.7,840.8 630,860 C629.3,879.2 628.0,900.0 628,920 C628.0,940.0 629.0,964.3 630,980 C631.0,995.7 633.3,1008.3 634,1014 " fill="none" stroke="#b45214" stroke-width="2.6" stroke-linecap="round" stroke-linejoin="round" opacity="0.5" filter="url(#fb1.2)"/><path d="M744,769 C742.2,772.2 735.5,779.7 733,788 C730.5,796.3 728.2,810.7 729,819 C729.8,827.3 734.2,834.5 738,838 C741.8,841.5 749.7,839.7 752,840 " fill="none" stroke="#b45214" stroke-width="2.6" stroke-linecap="round" stroke-linejoin="round" opacity="0.5" filter="url(#fb1.2)"/><path d="M862,740 C863.8,748.3 871.5,773.3 873,790 C874.5,806.7 873.8,824.2 871,840 C868.2,855.8 862.8,872.3 856,885 C849.2,897.7 840.2,906.8 830,916 C819.8,925.2 800.8,936.0 795,940 " fill="none" stroke="#b45214" stroke-width="2.6" stroke-linecap="round" stroke-linejoin="round" opacity="0.5" filter="url(#fb1.2)"/></g>
<rect x="249.2" y="1147.5" width="397" height="132.5" fill="#1d2741"/><rect x="620" y="1147.5" width="26.2" height="132.5" fill="url(#gBoxEdge)"/><text transform="translate(273.46,1241) scale(0.923,1)" font-size="74" fill="#c9964c" stroke="#c9964c" stroke-width="0.3">P</text><text transform="translate(324.14,1241) scale(0.777,1)" font-size="74" fill="#c9964c" stroke="#c9964c" stroke-width="0.9">R</text><text transform="translate(372.12,1241) scale(0.780,1)" font-size="74" fill="#c9964c" stroke="#c9964c" stroke-width="0.9">E</text><text transform="translate(417.79,1241) scale(0.868,1)" font-size="74" fill="#c9964c" stroke="#c9964c" stroke-width="0.9">M</text><text transform="translate(476.60,1241) scale(0.943,1)" font-size="74" fill="#c9964c" stroke="#c9964c" stroke-width="0.3">I</text><text transform="translate(501.03,1241) scale(0.829,1)" font-size="74" fill="#c9964c" stroke="#c9964c" stroke-width="0.9">U</text><text transform="translate(550.54,1241) scale(0.876,1)" font-size="74" fill="#c9964c" stroke="#c9964c" stroke-width="0.9">M</text>
<path d="M359.5,813 L359.5,517.5 L891,517.5 L891,1337" stroke="#343434" stroke-width="2.2" fill="none" stroke-dasharray="9.3 5"/><path d="M359.5,517.5 L463,414" stroke="#343434" stroke-width="2.2" fill="none" stroke-dasharray="9.3 5"/><path d="M891,517.5 L993.5,414" stroke="#343434" stroke-width="2.2" fill="none" stroke-dasharray="9.3 5"/><path d="M900.3,1457 L900.3,1632.2 L663,1632.2" stroke="#343434" stroke-width="2.2" fill="none" stroke-dasharray="9.3 5"/><path d="M900.3,1632.2 L997,1536" stroke="#343434" stroke-width="2.2" fill="none" stroke-dasharray="9.3 5"/><path d="M891,792 L1114.5,792 L1114.5,811" stroke="#343434" stroke-width="2.2" fill="none" stroke-dasharray="9.3 5" stroke-dashoffset="10.3"/><path d="M659,1224.3 L691.6,1224.3" stroke="#343434" stroke-width="2.2" fill="none" stroke-dasharray="9.3 5" stroke-dashoffset="5.3"/><path d="M691.6,1225 L691.6,1364" stroke="#343434" stroke-width="2.2" fill="none" stroke-dasharray="9.3 5"/><path d="M632,1577.3 L418.2,1577.3 L418.2,1603" stroke="#343434" stroke-width="2.2" fill="none" stroke-dasharray="9.3 5" stroke-dashoffset="3.7"/>
<circle cx="652" cy="1224.3" r="6.5" fill="#5f5f5f"/><circle cx="639.7" cy="1577.5" r="7" fill="#5a5a5a"/>
<g font-family="'Liberation Sans', sans-serif"><text x="617.5" y="484.3" font-size="38.5" font-weight="normal" text-anchor="start" fill="#111" textLength="122.5" lengthAdjust="spacingAndGlyphs">50 mm</text><g transform="translate(932,1113.5) rotate(90)"><text x="0" y="0" font-size="38.5" font-weight="normal" text-anchor="start" fill="#111" textLength="122.5" lengthAdjust="spacingAndGlyphs">96 mm</text></g><text x="1116.1" y="810.5" font-size="25" font-weight="bold" text-anchor="start" fill="#111" textLength="269.2" lengthAdjust="spacingAndGlyphs" stroke="#000" stroke-width="0.55">Excellent Craftsmanship</text><text x="1116.1" y="839.7" font-size="23.5" font-weight="normal" text-anchor="start" fill="#111" textLength="341.7" lengthAdjust="spacingAndGlyphs">Detailing at its best; handcrafted to</text><text x="1116.1" y="868.3" font-size="23.5" font-weight="normal" text-anchor="start" fill="#111" textLength="342.7" lengthAdjust="spacingAndGlyphs">perfection; durable fabric to handle</text><text x="1116.1" y="896.7" font-size="23.5" font-weight="normal" text-anchor="start" fill="#111" textLength="188.2" lengthAdjust="spacingAndGlyphs">daily wear and tear.</text><text x="693.4" y="1365.2" font-size="25" font-weight="bold" text-anchor="start" fill="#111" textLength="282.6" lengthAdjust="spacingAndGlyphs" stroke="#000" stroke-width="0.55">Premium Quality Product</text><text x="693.4" y="1394" font-size="23.5" font-weight="normal" text-anchor="start" fill="#111" textLength="279.2" lengthAdjust="spacingAndGlyphs">Made of specially formulated</text><text x="693.4" y="1423.2" font-size="23.5" font-weight="normal" text-anchor="start" fill="#111" textLength="296.5" lengthAdjust="spacingAndGlyphs">brass metal; &#8216;A&#8217; grade rhodium</text><text x="693.4" y="1452.7" font-size="23.5" font-weight="normal" text-anchor="start" fill="#111" textLength="277.2" lengthAdjust="spacingAndGlyphs">plating; Peluche&#8217;s assurance</text><text x="693.4" y="1480.4" font-size="23.5" font-weight="normal" text-anchor="start" fill="#111" textLength="93.8" lengthAdjust="spacingAndGlyphs">of quality.</text><text x="197.4" y="1600" font-size="25" font-weight="bold" text-anchor="start" fill="#111" textLength="217.3" lengthAdjust="spacingAndGlyphs" stroke="#000" stroke-width="0.55">Easy Pin-up Design</text><text x="68.2" y="1628.9" font-size="23.5" font-weight="normal" text-anchor="start" fill="#111" textLength="346.5" lengthAdjust="spacingAndGlyphs">Designed ergonomically to suit your</text><text x="83.4" y="1657.5" font-size="23.5" font-weight="normal" text-anchor="start" fill="#111" textLength="331.3" lengthAdjust="spacingAndGlyphs">daily needs; easy pin-up design to</text><text x="132.8" y="1686" font-size="23.5" font-weight="normal" text-anchor="start" fill="#111" textLength="281.9" lengthAdjust="spacingAndGlyphs">fasten your lapel pin in a jiffy.</text></g>
</svg></body></html>
